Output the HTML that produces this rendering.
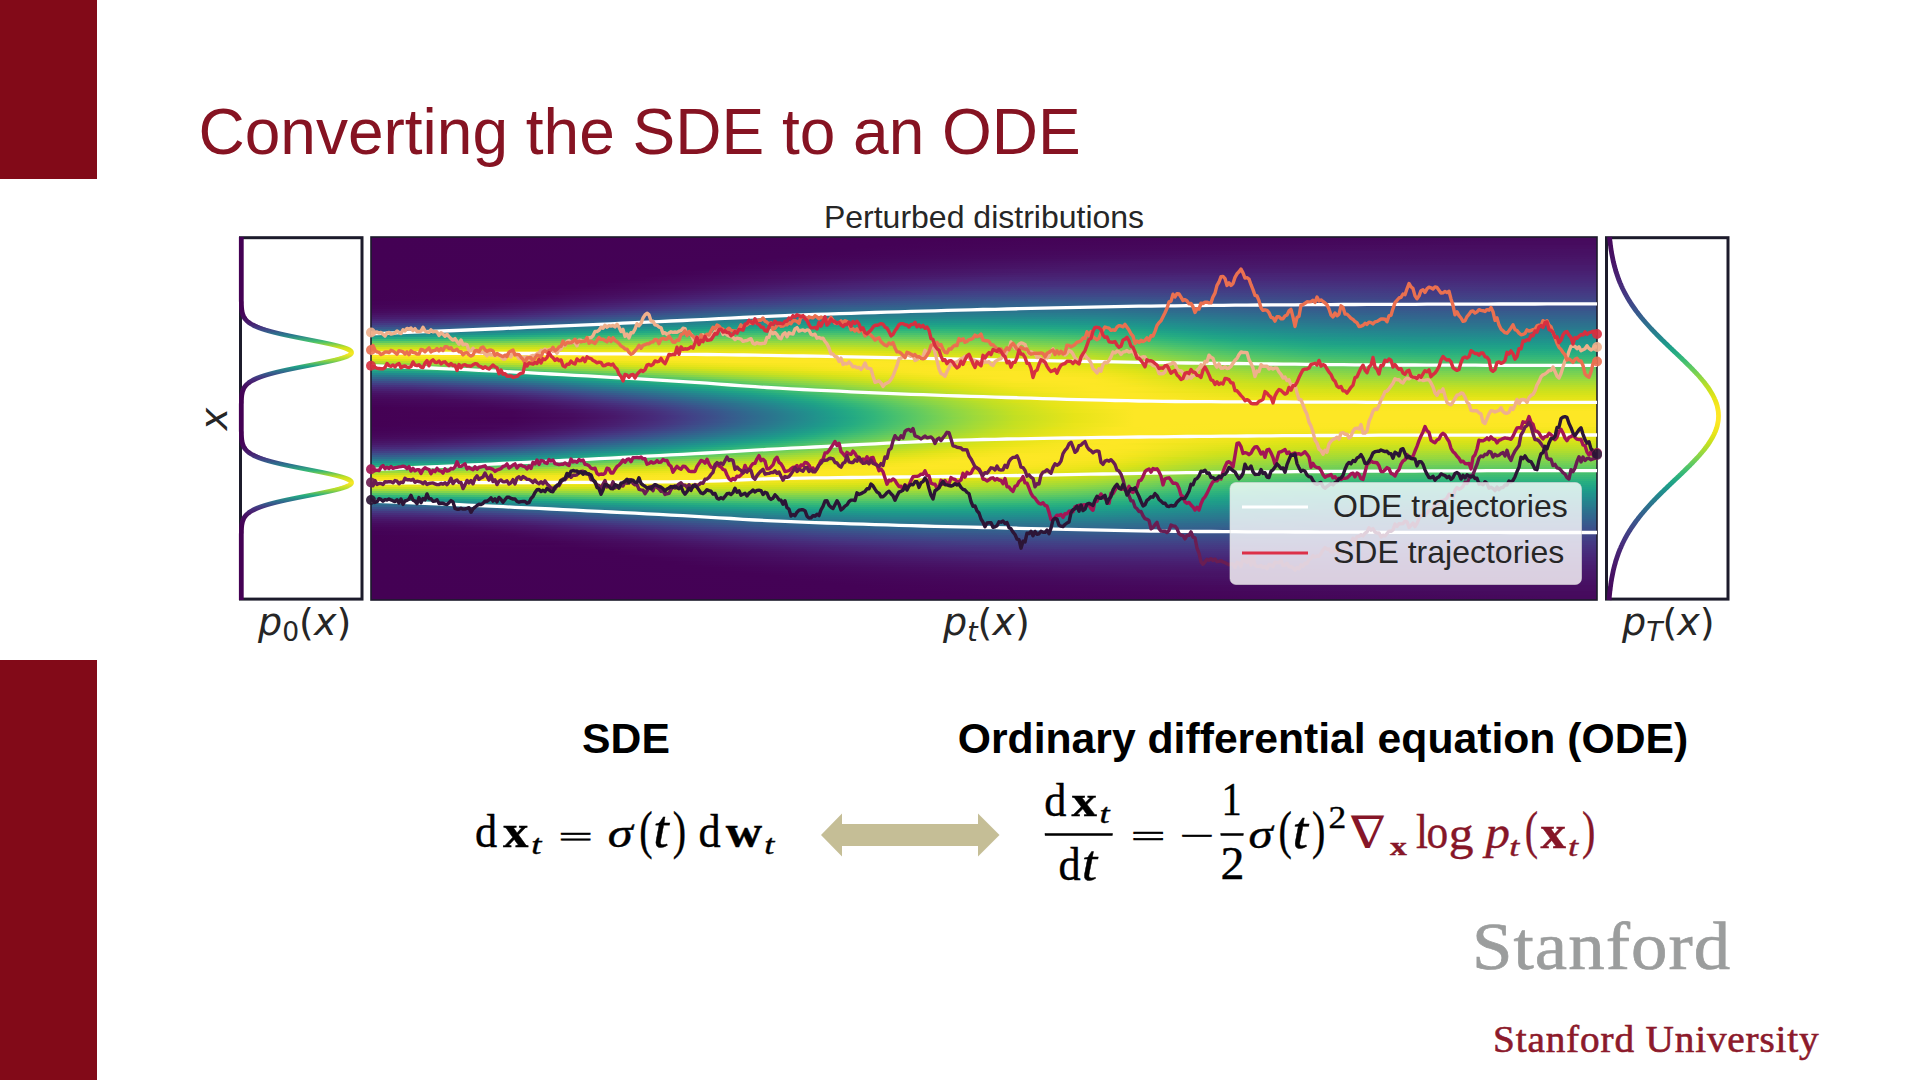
<!DOCTYPE html>
<html lang="en"><head><meta charset="utf-8"><title>Converting the SDE to an ODE</title>
<style>
html,body{margin:0;padding:0;background:#fff}
body{width:1920px;height:1080px;position:relative;overflow:hidden;font-family:"Liberation Sans",Arial,sans-serif}
.bar{position:absolute;left:0;width:97px;background:#820a18}
h1{position:absolute;left:198.5px;top:95px;margin:0;font-weight:400;font-size:64px;line-height:74px;color:#861322;white-space:nowrap}
.pt{position:absolute;left:684px;width:600px;top:199px;text-align:center;font-size:32px;line-height:36px;color:#262626;white-space:nowrap}
#heat{position:absolute;left:371px;top:237px;width:1226px;height:363px;overflow:hidden;background:#440154}
#heat i{position:absolute;left:0;width:1226px;height:2px;display:block}
svg#ov{position:absolute;left:0;top:0}
.hd{position:absolute;top:712.6px;font-weight:700;font-size:42.7px;line-height:50px;color:#000;white-space:nowrap;text-align:center}
.st1{position:absolute;left:1472px;top:906px;font-family:"Liberation Serif",serif;font-size:68px;line-height:80px;color:#9b9d9d;letter-spacing:1px;white-space:nowrap;transform:scaleX(1.07);transform-origin:0 0;-webkit-text-stroke:0.7px #9b9d9d}
.st2{position:absolute;left:1493px;top:1018px;font-family:"Liberation Serif",serif;font-size:37px;line-height:44px;color:#8c1a2b;letter-spacing:0.8px;white-space:nowrap;transform:scaleX(1.06);transform-origin:0 0;-webkit-text-stroke:0.6px #8c1a2b}
</style></head><body>
<div class="bar" style="top:0;height:179px"></div>
<div class="bar" style="top:660px;height:420px"></div>
<h1>Converting the SDE to an ODE</h1>
<div class="pt">Perturbed distributions</div>
<div id="heat">
<i style="top:0px;background:linear-gradient(90deg,#440154 0%,#440256 49.2%,#460a5d 98.4%,#460a5d 100%)"></i>
<i style="top:2px;background:linear-gradient(90deg,#440154 0%,#440256 47.5%,#460a5d 96.7%,#460a5d 100%)"></i>
<i style="top:4px;background:linear-gradient(90deg,#440154 0%,#440256 44.3%,#460b5e 93.4%,#460b5e 100%)"></i>
<i style="top:6px;background:linear-gradient(90deg,#440154 0%,#440256 42.6%,#460b5e 90.2%,#460b5e 100%)"></i>
<i style="top:8px;background:linear-gradient(90deg,#440154 0%,#440256 41%,#470d60 88.5%,#470d60 100%)"></i>
<i style="top:10px;background:linear-gradient(90deg,#440154 0%,#440256 39.3%,#470d60 85.2%,#470e61 100%)"></i>
<i style="top:12px;background:linear-gradient(90deg,#440154 0%,#440256 37.7%,#470e61 83.6%,#471063 100%)"></i>
<i style="top:14px;background:linear-gradient(90deg,#440154 0%,#440256 36.1%,#471063 80.3%,#471063 100%)"></i>
<i style="top:16px;background:linear-gradient(90deg,#440154 0%,#440256 36.1%,#471063 77%,#471164 100%)"></i>
<i style="top:18px;background:linear-gradient(90deg,#440154 0%,#440256 34.4%,#471164 72.1%,#471365 100%)"></i>
<i style="top:20px;background:linear-gradient(90deg,#440154 0%,#440256 32.8%,#471164 68.9%,#481467 100%)"></i>
<i style="top:22px;background:linear-gradient(90deg,#440154 0%,#440256 31.1%,#471365 65.6%,#481668 100%)"></i>
<i style="top:24px;background:linear-gradient(90deg,#440154 0%,#440256 31.1%,#481467 62.3%,#481769 96.7%,#481769 100%)"></i>
<i style="top:26px;background:linear-gradient(90deg,#440154 0%,#440256 29.5%,#481668 60.7%,#48186a 93.4%,#48186a 100%)"></i>
<i style="top:28px;background:linear-gradient(90deg,#440154 0%,#440256 27.9%,#481769 59%,#481b6d 88.5%,#481b6d 100%)"></i>
<i style="top:30px;background:linear-gradient(90deg,#440154 0%,#440256 27.9%,#48186a 57.4%,#481c6e 83.6%,#481c6e 100%)"></i>
<i style="top:32px;background:linear-gradient(90deg,#440154 0%,#440256 26.2%,#48186a 52.5%,#481d6f 72.1%,#481d6f 100%)"></i>
<i style="top:34px;background:linear-gradient(90deg,#440154 0%,#440256 24.6%,#471164 41%,#481c6e 57.4%,#482071 82%,#482071 100%)"></i>
<i style="top:36px;background:linear-gradient(90deg,#440154 0%,#440256 24.6%,#471365 41%,#481f70 55.7%,#482374 75.4%,#482173 100%)"></i>
<i style="top:38px;background:linear-gradient(90deg,#440154 0%,#440256 23%,#471063 36.1%,#482071 52.5%,#482576 67.2%,#482475 100%)"></i>
<i style="top:40px;background:linear-gradient(90deg,#440154 0%,#440256 21.3%,#470d60 32.8%,#482374 50.8%,#482878 65.6%,#482677 100%)"></i>
<i style="top:42px;background:linear-gradient(90deg,#440154 0%,#440256 21.3%,#471063 32.8%,#482374 47.5%,#472a7a 60.7%,#482878 100%)"></i>
<i style="top:44px;background:linear-gradient(90deg,#440154 0%,#440256 19.7%,#470d60 29.5%,#482173 42.6%,#472c7a 54.1%,#472e7c 67.2%,#472a7a 100%)"></i>
<i style="top:46px;background:linear-gradient(90deg,#440154 0%,#440256 18%,#470d60 27.9%,#482071 39.3%,#472d7b 50.8%,#46327e 63.9%,#472d7b 100%)"></i>
<i style="top:48px;background:linear-gradient(90deg,#440154 0%,#440256 18%,#470d60 26.2%,#482173 37.7%,#472f7d 49.2%,#453581 62.3%,#472f7d 100%)"></i>
<i style="top:50px;background:linear-gradient(90deg,#440154 0%,#440256 16.4%,#460b5e 24.6%,#481f70 34.4%,#46307e 45.9%,#453882 55.7%,#453882 65.6%,#46337f 95.1%,#46337f 100%)"></i>
<i style="top:52px;background:linear-gradient(90deg,#440154 0%,#450457 16.4%,#470e61 24.6%,#482374 34.4%,#453581 45.9%,#433d84 55.7%,#433d84 65.6%,#453581 91.8%,#453581 100%)"></i>
<i style="top:54px;background:linear-gradient(90deg,#440154 0%,#450457 14.8%,#470e61 23%,#482071 31.1%,#46307e 39.3%,#433e85 49.2%,#424186 60.7%,#443983 88.5%,#453882 100%)"></i>
<i style="top:56px;background:linear-gradient(90deg,#440154 0%,#450457 14.8%,#471164 23%,#482475 31.1%,#453581 39.3%,#414287 49.2%,#404688 60.7%,#433d84 86.9%,#443b84 100%)"></i>
<i style="top:58px;background:linear-gradient(90deg,#440154 0%,#450457 13.1%,#471164 21.3%,#482576 29.5%,#463480 36.1%,#404588 45.9%,#3e4a89 55.7%,#3e4989 63.9%,#424086 83.6%,#433e85 100%)"></i>
<i style="top:60px;background:linear-gradient(90deg,#440154 0%,#450559 13.1%,#481467 21.3%,#482576 27.9%,#453781 34.4%,#404688 42.6%,#3d4e8a 50.8%,#3c508b 60.7%,#414487 82%,#424186 100%)"></i>
<i style="top:62px;background:linear-gradient(90deg,#440154 0%,#450559 11.5%,#471164 18%,#482173 24.6%,#463480 31.1%,#414487 37.7%,#3c508b 45.9%,#3a548c 54.1%,#3a548c 62.3%,#3f4889 80.3%,#404588 100%)"></i>
<i style="top:64px;background:linear-gradient(90deg,#440256 0%,#46075a 11.5%,#481467 18%,#482677 24.6%,#453581 29.5%,#3f4788 36.1%,#3a548c 44.3%,#375a8c 52.5%,#375a8c 60.7%,#3e4c8a 80.3%,#3f4889 100%)"></i>
<i style="top:66px;background:linear-gradient(90deg,#440256 0%,#46085c 9.8%,#471063 14.8%,#482374 21.3%,#46327e 26.2%,#424086 31.1%,#3c508b 37.7%,#365c8d 45.9%,#34608d 54.1%,#355e8d 62.3%,#3c508b 78.7%,#3e4c8a 96.7%,#3e4c8a 100%)"></i>
<i style="top:68px;background:linear-gradient(90deg,#450457 0%,#460a5d 9.8%,#481467 14.8%,#482878 21.3%,#443983 26.2%,#3f4788 31.1%,#38588c 37.7%,#33628d 45.9%,#32658e 54.1%,#33638d 62.3%,#3a548c 77%,#3c4f8a 91.8%,#3c4f8a 100%)"></i>
<i style="top:70px;background:linear-gradient(90deg,#450559 0%,#460b5e 8.2%,#481467 13.1%,#482475 18%,#463480 23%,#404688 27.9%,#3a538b 32.8%,#34618d 39.3%,#30698e 47.5%,#2f6b8e 57.4%,#31668e 63.9%,#38598c 77%,#3a538b 91.8%,#3b528b 100%)"></i>
<i style="top:72px;background:linear-gradient(90deg,#46085c 0%,#470d60 6.6%,#481a6c 13.1%,#472a7a 18%,#443b84 23%,#3d4d8a 27.9%,#375b8d 32.8%,#31688e 39.3%,#2d708e 47.5%,#2d718e 57.4%,#2f6b8e 63.9%,#365d8d 77%,#39568c 90.2%,#39558c 100%)"></i>
<i style="top:74px;background:linear-gradient(90deg,#460b5e 0%,#471164 6.6%,#481b6d 11.5%,#472c7a 16.4%,#433e85 21.3%,#3e4a89 24.6%,#375a8c 29.5%,#306a8e 36.1%,#2c728e 42.6%,#2a768e 50.8%,#2b758e 59%,#31678e 70.5%,#355e8d 80.3%,#375a8c 95.1%,#375a8c 100%)"></i>
<i style="top:76px;background:linear-gradient(90deg,#471063 0%,#481467 4.9%,#482173 11.5%,#46337f 16.4%,#424086 19.7%,#3d4d8a 23%,#38598c 26.2%,#31668e 31.1%,#2c738e 37.7%,#287c8e 45.9%,#287d8e 54.1%,#29798e 60.7%,#2f6c8e 70.5%,#33628d 80.3%,#365d8d 95.1%,#365d8d 100%)"></i>
<i style="top:78px;background:linear-gradient(90deg,#481668 0%,#481b6d 4.9%,#482979 11.5%,#453581 14.8%,#414487 18%,#3c508b 21.3%,#365c8d 24.6%,#2f6b8e 29.5%,#2a788e 36.1%,#26818e 42.6%,#25838e 50.8%,#27808e 59%,#2a778e 65.6%,#306a8e 75.4%,#33638d 86.9%,#34618d 100%)"></i>
<i style="top:80px;background:linear-gradient(90deg,#481c6e 0%,#482173 4.9%,#46327e 11.5%,#423f85 14.8%,#3d4d8a 18%,#375a8c 21.3%,#32658e 24.6%,#2c738e 29.5%,#26818e 36.1%,#24878e 42.6%,#238a8d 50.8%,#24868e 59%,#287c8e 65.6%,#2e6e8e 75.4%,#31678e 85.2%,#32648e 100%)"></i>
<i style="top:82px;background:linear-gradient(90deg,#482475 0%,#472a7a 4.9%,#433d84 11.5%,#3e4989 14.8%,#38588c 18%,#33638d 21.3%,#2e6f8e 24.6%,#287c8e 29.5%,#23888e 36.1%,#218f8d 42.6%,#21918c 50.8%,#228c8d 59%,#26818e 65.6%,#2b748e 73.8%,#2f6c8e 83.6%,#31688e 100%)"></i>
<i style="top:84px;background:linear-gradient(90deg,#472e7c 0%,#46307e 3.3%,#414287 9.8%,#3d4e8a 13.1%,#365c8d 16.4%,#31688e 19.7%,#2c738e 23%,#26828e 27.9%,#218e8d 34.4%,#1f958b 41%,#1f978b 49.2%,#20928c 59%,#23898e 63.9%,#287d8e 70.5%,#2c728e 78.7%,#2e6d8e 90.2%,#2f6c8e 100%)"></i>
<i style="top:86px;background:linear-gradient(90deg,#443983 0%,#433d84 3.3%,#3d4e8a 9.8%,#375a8c 13.1%,#31678e 16.4%,#2c728e 19.7%,#287d8e 23%,#228b8d 27.9%,#1f978b 34.4%,#1e9d89 41%,#1f9e89 49.2%,#1f978b 59%,#218f8d 63.9%,#26828e 70.5%,#2a778e 78.7%,#2d718e 90.2%,#2d708e 100%)"></i>
<i style="top:88px;background:linear-gradient(90deg,#404688 0%,#3e4989 3.3%,#39568c 8.2%,#31668e 13.1%,#2c728e 16.4%,#277e8e 19.7%,#23888e 23%,#1f948c 27.9%,#1fa088 34.4%,#21a585 41%,#21a585 49.2%,#1f9e89 59%,#1f948c 63.9%,#24868e 70.5%,#297b8e 78.7%,#2b758e 88.5%,#2c738e 100%)"></i>
<i style="top:90px;background:linear-gradient(90deg,#3a548c 0%,#38588c 3.3%,#32648e 8.2%,#2c728e 13.1%,#277f8e 16.4%,#238a8d 19.7%,#1f978b 24.6%,#20a486 31.1%,#25ac82 37.7%,#26ad81 45.9%,#22a785 55.7%,#1fa188 60.7%,#1f958b 65.6%,#23888e 72.1%,#277e8e 80.3%,#2a788e 91.8%,#2a778e 100%)"></i>
<i style="top:92px;background:linear-gradient(90deg,#33638d 0%,#31678e 3.3%,#2c728e 8.2%,#26818e 13.1%,#228c8d 16.4%,#1f9a8a 21.3%,#21a585 26.2%,#29af7f 32.8%,#2fb47c 39.3%,#2fb47c 47.5%,#25ac82 57.4%,#20a386 62.3%,#1f968b 67.2%,#238a8d 73.8%,#26818e 82%,#287c8e 93.4%,#287c8e 100%)"></i>
<i style="top:94px;background:linear-gradient(90deg,#2c728e 0%,#2a768e 3.3%,#26818e 8.2%,#218f8d 13.1%,#1f998a 16.4%,#21a685 21.3%,#2eb37c 27.9%,#3aba76 36.1%,#3bbb75 44.3%,#31b57b 54.1%,#26ad81 60.7%,#1fa088 65.6%,#1f948c 70.5%,#23898e 77%,#26828e 86.9%,#27808e 100%)"></i>
<i style="top:96px;background:linear-gradient(90deg,#25838e 0%,#24868e 3.3%,#1f948c 9.8%,#1fa187 14.8%,#28ae80 19.7%,#3dbc74 27.9%,#4ac16d 36.1%,#4ac16d 44.3%,#3bbb75 54.1%,#31b57b 59%,#24aa83 63.9%,#1e9d89 68.9%,#21918c 75.4%,#23888e 83.6%,#25848e 96.7%,#25838e 100%)"></i>
<i style="top:98px;background:linear-gradient(90deg,#1f958b 0%,#1f978b 3.3%,#20a486 9.8%,#2ab07f 14.8%,#3fbc73 21.3%,#54c568 29.5%,#5cc863 37.7%,#58c765 45.9%,#40bd72 57.4%,#2fb47c 62.3%,#24aa83 65.6%,#1f9e89 70.5%,#20928c 77%,#228b8d 85.2%,#23888e 100%)"></i>
<i style="top:100px;background:linear-gradient(90deg,#22a785 0%,#25ac82 4.9%,#34b679 11.5%,#4cc26c 18%,#65cb5e 26.2%,#6ece58 34.4%,#6ccd5a 42.6%,#58c765 52.5%,#46c06f 59%,#2fb47c 63.9%,#21a685 68.9%,#1f998a 75.4%,#21918c 83.6%,#228c8d 96.7%,#228c8d 100%)"></i>
<i style="top:102px;background:linear-gradient(90deg,#37b878 0%,#3dbc74 4.9%,#56c667 13.1%,#70cf57 21.3%,#7fd34e 29.5%,#81d34d 39.3%,#70cf57 49.2%,#58c765 57.4%,#40bd72 62.3%,#2fb47c 65.6%,#22a785 70.5%,#1e9b8a 77%,#20938c 85.2%,#21918c 100%)"></i>
<i style="top:104px;background:linear-gradient(90deg,#5ac864 0%,#65cb5e 6.6%,#89d548 19.7%,#95d840 29.5%,#93d741 39.3%,#7fd34e 49.2%,#65cb5e 57.4%,#4cc26c 62.3%,#37b878 65.6%,#25ac82 70.5%,#1fa088 77%,#1f988b 85.2%,#1f948c 100%)"></i>
<i style="top:106px;background:linear-gradient(90deg,#84d44b 0%,#95d840 11.5%,#a8db34 23%,#aadc32 34.4%,#9bd93c 44.3%,#77d153 55.7%,#60ca60 60.7%,#4ac16d 63.9%,#37b878 67.2%,#26ad81 72.1%,#1fa187 78.7%,#1e9c89 86.9%,#1f998a 100%)"></i>
<i style="top:108px;background:linear-gradient(90deg,#aadc32 0%,#c0df25 23%,#bade28 36.1%,#a2da37 47.5%,#7fd34e 57.4%,#60ca60 62.3%,#48c16e 65.6%,#31b57b 70.5%,#22a884 77%,#1fa188 85.2%,#1f9e89 100%)"></i>
<i style="top:110px;background:linear-gradient(90deg,#cde11d 0%,#d2e21b 24.6%,#c5e021 39.3%,#addc30 49.2%,#8ed645 57.4%,#6ece58 62.3%,#52c569 65.6%,#37b878 70.5%,#26ad81 77%,#21a585 85.2%,#1fa187 100%)"></i>
<i style="top:112px;background:linear-gradient(90deg,#e7e419 0%,#e5e419 24.6%,#d2e21b 39.3%,#bade28 49.2%,#9bd93c 57.4%,#7ad151 62.3%,#5cc863 65.6%,#3fbc73 70.5%,#2cb17e 77%,#24aa83 85.2%,#21a685 100%)"></i>
<i style="top:114px;background:linear-gradient(90deg,#f8e621 0%,#efe51c 24.6%,#dde318 41%,#bade28 52.5%,#9dd93b 59%,#84d44b 62.3%,#67cc5c 65.6%,#48c16e 70.5%,#31b57b 77%,#27ad81 85.2%,#25ab82 100%)"></i>
<i style="top:116px;background:linear-gradient(90deg,#fde725 0%,#f8e621 24.6%,#e7e419 41%,#c5e021 52.5%,#aadc32 59%,#90d743 62.3%,#70cf57 65.6%,#50c46a 70.5%,#38b977 77%,#2db27d 85.2%,#28ae80 100%)"></i>
<i style="top:118px;background:linear-gradient(90deg,#fbe723 0%,#fde725 24.6%,#efe51c 41%,#d5e21a 50.8%,#b5de2b 59%,#9bd93c 62.3%,#7cd250 65.6%,#5ac864 70.5%,#3fbc73 77%,#34b679 85.2%,#2eb37c 100%)"></i>
<i style="top:120px;background:linear-gradient(90deg,#efe51c 0%,#fde725 24.6%,#f6e620 39.3%,#e5e419 49.2%,#c8e020 57.4%,#b5de2b 60.7%,#95d840 63.9%,#77d153 67.2%,#5ac864 72.1%,#44bf70 78.7%,#38b977 88.5%,#35b779 100%)"></i>
<i style="top:122px;background:linear-gradient(90deg,#d8e219 0%,#eae51a 11.5%,#fbe723 23%,#fde725 36.1%,#efe51c 47.5%,#d2e21b 57.4%,#bddf26 60.7%,#a0da39 63.9%,#81d34d 67.2%,#63cb5f 72.1%,#4cc26c 78.7%,#3fbc73 88.5%,#3bbb75 100%)"></i>
<i style="top:124px;background:linear-gradient(90deg,#b8de29 0%,#c5e021 6.6%,#eae51a 18%,#fde725 29.5%,#fde725 41%,#efe51c 50.8%,#dae319 57.4%,#c8e020 60.7%,#aadc32 63.9%,#8bd646 67.2%,#6ece58 72.1%,#56c667 78.7%,#48c16e 88.5%,#44bf70 100%)"></i>
<i style="top:126px;background:linear-gradient(90deg,#90d743 0%,#9bd93c 4.9%,#c0df25 13.1%,#e5e419 21.3%,#f8e621 31.1%,#fde725 42.6%,#efe51c 52.5%,#dae319 59%,#c2df23 62.3%,#a2da37 65.6%,#7fd34e 70.5%,#63cb5f 77%,#54c568 85.2%,#4cc26c 100%)"></i>
<i style="top:128px;background:linear-gradient(90deg,#65cb5e 0%,#6ccd5a 3.3%,#8ed645 9.8%,#addc30 14.8%,#d5e21a 21.3%,#efe51c 29.5%,#fde725 39.3%,#fbe723 49.2%,#e7e419 57.4%,#d8e219 60.7%,#bade28 63.9%,#a0da39 67.2%,#7fd34e 72.1%,#67cc5c 78.7%,#5ac864 88.5%,#56c667 100%)"></i>
<i style="top:130px;background:linear-gradient(90deg,#40bd72 0%,#46c06f 3.3%,#60ca60 8.2%,#81d34d 13.1%,#9dd93b 16.4%,#c0df25 21.3%,#dfe318 27.9%,#f8e621 37.7%,#fde725 45.9%,#f6e620 54.1%,#e7e419 59%,#d2e21b 62.3%,#b5de2b 65.6%,#93d741 70.5%,#75d054 77%,#65cb5e 85.2%,#5ec962 100%)"></i>
<i style="top:132px;background:linear-gradient(90deg,#26ad81 0%,#2ab07f 3.3%,#3fbc73 8.2%,#52c569 11.5%,#6ece58 14.8%,#8ed645 18%,#b2dd2d 23%,#d8e219 29.5%,#f4e61e 37.7%,#fde725 45.9%,#f8e621 54.1%,#ece51b 59%,#dae319 62.3%,#bddf26 65.6%,#9bd93c 70.5%,#7fd34e 77%,#6ece58 86.9%,#69cd5b 100%)"></i>
<i style="top:134px;background:linear-gradient(90deg,#1f9a8a 0%,#1f9f88 3.3%,#22a884 6.6%,#2db27d 9.8%,#40bd72 13.1%,#60ca60 16.4%,#7fd34e 19.7%,#9bd93c 23%,#bddf26 27.9%,#e5e419 36.1%,#fbe723 44.3%,#fde725 52.5%,#f1e51d 59%,#dfe318 62.3%,#b8de29 67.2%,#93d741 73.8%,#81d34d 80.3%,#75d054 91.8%,#73d056 100%)"></i>
<i style="top:136px;background:linear-gradient(90deg,#23888e 0%,#238a8d 1.6%,#20928c 4.9%,#1e9d89 8.2%,#23a983 11.5%,#2ab07f 13.1%,#35b779 14.8%,#44bf70 16.4%,#63cb5f 19.7%,#7fd34e 23%,#9dd93b 26.2%,#c0df25 31.1%,#e2e418 37.7%,#fbe723 45.9%,#fde725 52.5%,#f6e620 59%,#e5e419 62.3%,#c0df25 67.2%,#9dd93b 73.8%,#86d549 82%,#7cd250 96.7%,#7cd250 100%)"></i>
<i style="top:138px;background:linear-gradient(90deg,#2a788e 0%,#29798e 1.6%,#26818e 4.9%,#228d8d 8.2%,#1f998a 11.5%,#1fa187 13.1%,#24aa83 14.8%,#2db27d 16.4%,#3aba76 18%,#56c667 21.3%,#75d054 24.6%,#93d741 27.9%,#b8de29 32.8%,#dfe318 39.3%,#f6e620 45.9%,#fde725 52.5%,#f8e621 59%,#eae51a 62.3%,#c8e020 67.2%,#a5db36 73.8%,#90d743 82%,#86d549 96.7%,#86d549 100%)"></i>
<i style="top:140px;background:linear-gradient(90deg,#31688e 0%,#30698e 1.6%,#2c718e 4.9%,#287d8e 8.2%,#238a8d 11.5%,#20928c 13.1%,#1e9c89 14.8%,#21a585 16.4%,#27ad81 18%,#32b67a 19.7%,#3fbc73 21.3%,#4ec36b 23%,#6ccd5a 26.2%,#8bd646 29.5%,#a5db36 32.8%,#cae11f 37.7%,#ece51b 44.3%,#fde725 50.8%,#fde725 57.4%,#f6e620 60.7%,#d8e219 65.6%,#b5de2b 72.1%,#9dd93b 80.3%,#93d741 93.4%,#90d743 100%)"></i>
<i style="top:142px;background:linear-gradient(90deg,#38598c 0%,#375a8c 1.6%,#33628d 4.9%,#2e6f8e 8.2%,#287c8e 11.5%,#25848e 13.1%,#218e8d 14.8%,#1f988b 16.4%,#1fa187 18%,#24aa83 19.7%,#2cb17e 21.3%,#38b977 23%,#46c06f 24.6%,#65cb5e 27.9%,#84d44b 31.1%,#a0da39 34.4%,#c8e020 39.3%,#ece51b 45.9%,#fde725 52.5%,#fde725 59%,#f1e51d 62.3%,#cae11f 68.9%,#addc30 77%,#9dd93b 88.5%,#9bd93c 100%)"></i>
<i style="top:144px;background:linear-gradient(90deg,#3e4a89 0%,#3c4f8a 3.3%,#375a8c 6.6%,#31678e 9.8%,#2e6e8e 11.5%,#2a778e 13.1%,#26818e 14.8%,#228b8d 16.4%,#1f948c 18%,#1e9d89 19.7%,#21a685 21.3%,#28ae80 23%,#34b679 24.6%,#40bd72 26.2%,#5ec962 29.5%,#7fd34e 32.8%,#9dd93b 36.1%,#c8e020 41%,#ece51b 47.5%,#fbe723 52.5%,#fde725 59%,#f4e61e 62.3%,#d0e11c 68.9%,#b5de2b 77%,#a8db34 88.5%,#a5db36 100%)"></i>
<i style="top:146px;background:linear-gradient(90deg,#433d84 0%,#424186 3.3%,#3d4d8a 6.6%,#375a8c 9.8%,#34618d 11.5%,#306a8e 13.1%,#2c738e 14.8%,#277e8e 16.4%,#23888e 18%,#21918c 19.7%,#1f9a8a 21.3%,#20a386 23%,#25ac82 24.6%,#2fb47c 26.2%,#3dbc74 27.9%,#4cc26c 29.5%,#6ccd5a 32.8%,#8ed645 36.1%,#addc30 39.3%,#d2e21b 44.3%,#f4e61e 50.8%,#fde725 57.4%,#fbe723 60.7%,#d8e219 68.9%,#bddf26 77%,#b0dd2f 90.2%,#addc30 100%)"></i>
<i style="top:148px;background:linear-gradient(90deg,#46307e 0%,#453581 3.3%,#404688 8.2%,#3a548c 11.5%,#365d8d 13.1%,#31678e 14.8%,#2c718e 16.4%,#287c8e 18%,#25858e 19.7%,#218f8d 21.3%,#1f988b 23%,#1fa187 24.6%,#24aa83 26.2%,#2db27d 27.9%,#3aba76 29.5%,#48c16e 31.1%,#58c765 32.8%,#7cd250 36.1%,#9dd93b 39.3%,#bddf26 42.6%,#dfe318 47.5%,#f6e620 52.5%,#fde725 59%,#f8e621 62.3%,#d5e21a 70.5%,#c2df23 78.7%,#b8de29 93.4%,#b8de29 100%)"></i>
<i style="top:150px;background:linear-gradient(90deg,#482677 0%,#472a7a 3.3%,#443a83 8.2%,#3f4889 11.5%,#3b518b 13.1%,#365c8d 14.8%,#31668e 16.4%,#2d708e 18%,#297a8e 19.7%,#25838e 21.3%,#228d8d 23%,#1f968b 24.6%,#1fa088 26.2%,#23a983 27.9%,#2cb17e 29.5%,#38b977 31.1%,#48c16e 32.8%,#58c765 34.4%,#6ccd5a 36.1%,#8ed645 39.3%,#b0dd2f 42.6%,#d8e219 47.5%,#f1e51d 52.5%,#fde725 59%,#fbe723 62.3%,#dae319 70.5%,#c8e020 80.3%,#c0df25 100%)"></i>
<i style="top:152px;background:linear-gradient(90deg,#481f70 0%,#482173 3.3%,#46307e 8.2%,#433d84 11.5%,#404688 13.1%,#3c508b 14.8%,#375b8d 16.4%,#32658e 18%,#2e6f8e 19.7%,#2a788e 21.3%,#26828e 23%,#228c8d 24.6%,#1f968b 26.2%,#1fa088 27.9%,#23a983 29.5%,#2cb17e 31.1%,#38b977 32.8%,#4ac16d 34.4%,#5ac864 36.1%,#6ece58 37.7%,#93d741 41%,#b5de2b 44.3%,#dde318 49.2%,#f4e61e 54.1%,#fde725 59%,#fbe723 62.3%,#dde318 72.1%,#cde11d 83.6%,#c8e020 100%)"></i>
<i style="top:154px;background:linear-gradient(90deg,#481769 0%,#481d6f 4.9%,#472d7b 9.8%,#443b84 13.1%,#404588 14.8%,#3c508b 16.4%,#375a8c 18%,#32648e 19.7%,#2e6e8e 21.3%,#2a788e 23%,#26828e 24.6%,#228c8d 26.2%,#1f968b 27.9%,#1fa088 29.5%,#23a983 31.1%,#2db27d 32.8%,#3bbb75 34.4%,#4cc26c 36.1%,#5ec962 37.7%,#73d056 39.3%,#98d83e 42.6%,#bade28 45.9%,#e2e418 50.8%,#f6e620 55.7%,#fde725 60.7%,#f1e51d 65.6%,#dae319 75.4%,#d0e11c 90.2%,#d0e11c 100%)"></i>
<i style="top:156px;background:linear-gradient(90deg,#471164 0%,#481769 4.9%,#482475 9.8%,#46327e 13.1%,#443b84 14.8%,#404588 16.4%,#3c508b 18%,#375a8c 19.7%,#32648e 21.3%,#2e6e8e 23%,#2a788e 24.6%,#26828e 26.2%,#228d8d 27.9%,#1f978b 29.5%,#1fa188 31.1%,#25ab82 32.8%,#2fb47c 34.4%,#3fbc73 36.1%,#52c569 37.7%,#65cb5e 39.3%,#77d153 41%,#a0da39 44.3%,#c0df25 47.5%,#e5e419 52.5%,#fde725 59%,#fde725 62.3%,#e2e418 73.8%,#d8e219 88.5%,#d5e21a 100%)"></i>
<i style="top:158px;background:linear-gradient(90deg,#470d60 0%,#471164 4.9%,#482173 11.5%,#46327e 14.8%,#443b84 16.4%,#404688 18%,#3c508b 19.7%,#375a8c 21.3%,#32658e 23%,#2e6f8e 24.6%,#297a8e 26.2%,#25848e 27.9%,#218f8d 29.5%,#1f988b 31.1%,#20a386 32.8%,#27ad81 34.4%,#34b679 36.1%,#46c06f 37.7%,#58c765 39.3%,#6ccd5a 41%,#81d34d 42.6%,#a8db34 45.9%,#c8e020 49.2%,#eae51a 54.1%,#fbe723 59%,#fde725 62.3%,#e7e419 73.8%,#dde318 90.2%,#dde318 100%)"></i>
<i style="top:160px;background:linear-gradient(90deg,#460a5d 0%,#470d60 4.9%,#481b6d 11.5%,#472a7a 14.8%,#46337f 16.4%,#433d84 18%,#3f4788 19.7%,#3b518b 21.3%,#365c8d 23%,#31668e 24.6%,#2c718e 26.2%,#287c8e 27.9%,#24868e 29.5%,#21918c 31.1%,#1e9c89 32.8%,#22a785 34.4%,#2cb17e 36.1%,#3bbb75 37.7%,#4ec36b 39.3%,#60ca60 41%,#75d054 42.6%,#8bd646 44.3%,#b2dd2d 47.5%,#d0e11c 50.8%,#efe51c 55.7%,#fde725 60.7%,#fbe723 63.9%,#eae51a 77%,#e2e418 100%)"></i>
<i style="top:162px;background:linear-gradient(90deg,#46075a 0%,#460b5e 6.6%,#481668 11.5%,#482374 14.8%,#463480 18%,#433e85 19.7%,#3f4889 21.3%,#3b528b 23%,#355e8d 24.6%,#30698e 26.2%,#2b748e 27.9%,#277f8e 29.5%,#238a8d 31.1%,#1f958b 32.8%,#1fa188 34.4%,#25ac82 36.1%,#32b67a 37.7%,#44bf70 39.3%,#58c765 41%,#6ccd5a 42.6%,#81d34d 44.3%,#95d840 45.9%,#bddf26 49.2%,#e2e418 54.1%,#fde725 60.7%,#fde725 63.9%,#ece51b 78.7%,#e7e419 100%)"></i>
<i style="top:164px;background:linear-gradient(90deg,#450559 0%,#460b5e 8.2%,#481668 13.1%,#482475 16.4%,#453781 19.7%,#424086 21.3%,#3e4a89 23%,#39568c 24.6%,#33628d 26.2%,#2e6d8e 27.9%,#2a788e 29.5%,#25838e 31.1%,#218f8d 32.8%,#1e9b8a 34.4%,#21a685 36.1%,#2cb17e 37.7%,#3bbb75 39.3%,#4ec36b 41%,#63cb5f 42.6%,#7ad151 44.3%,#8ed645 45.9%,#b5de2b 49.2%,#d5e21a 52.5%,#f8e621 59%,#fde725 62.3%,#efe51c 80.3%,#ece51b 100%)"></i>
<i style="top:166px;background:linear-gradient(90deg,#450457 0%,#46085c 8.2%,#471164 13.1%,#481f70 16.4%,#472f7d 19.7%,#443983 21.3%,#414487 23%,#3c4f8a 24.6%,#375b8d 26.2%,#31678e 27.9%,#2c718e 29.5%,#287d8e 31.1%,#23898e 32.8%,#1f958b 34.4%,#1fa187 36.1%,#26ad81 37.7%,#34b679 39.3%,#46c06f 41%,#5cc863 42.6%,#73d056 44.3%,#89d548 45.9%,#9dd93b 47.5%,#c2df23 50.8%,#e7e419 55.7%,#fbe723 60.7%,#fde725 63.9%,#f1e51d 83.6%,#f1e51d 100%)"></i>
<i style="top:168px;background:linear-gradient(90deg,#440256 0%,#46085c 9.8%,#471365 14.8%,#482173 18%,#46327e 21.3%,#433d84 23%,#3f4889 24.6%,#3a548c 26.2%,#34618d 27.9%,#2e6d8e 29.5%,#2a788e 31.1%,#25848e 32.8%,#21918c 34.4%,#1e9d89 36.1%,#23a983 37.7%,#2fb47c 39.3%,#40bd72 41%,#56c667 42.6%,#6ccd5a 44.3%,#81d34d 45.9%,#98d83e 47.5%,#bddf26 50.8%,#e5e419 55.7%,#fbe723 60.7%,#fde725 63.9%,#f6e620 88.5%,#f4e61e 100%)"></i>
<i style="top:170px;background:linear-gradient(90deg,#440154 0%,#450559 9.8%,#471063 14.8%,#482475 19.7%,#472d7b 21.3%,#453781 23%,#414287 24.6%,#3c4f8a 26.2%,#365c8d 27.9%,#31688e 29.5%,#2c738e 31.1%,#27808e 32.8%,#228d8d 34.4%,#1f998a 36.1%,#21a585 37.7%,#2ab07f 39.3%,#3bbb75 41%,#50c46a 42.6%,#65cb5e 44.3%,#7cd250 45.9%,#93d741 47.5%,#bade28 50.8%,#e2e418 55.7%,#fbe723 60.7%,#fde725 63.9%,#f8e621 98.4%,#f8e621 100%)"></i>
<i style="top:172px;background:linear-gradient(90deg,#440154 0%,#450559 11.5%,#471164 16.4%,#482071 19.7%,#46327e 23%,#433e85 24.6%,#3e4a89 26.2%,#39568c 27.9%,#32648e 29.5%,#2d708e 31.1%,#287c8e 32.8%,#23898e 34.4%,#1f968b 36.1%,#1fa287 37.7%,#27ad81 39.3%,#37b878 41%,#4cc26c 42.6%,#60ca60 44.3%,#77d153 45.9%,#8ed645 47.5%,#a2da37 49.2%,#c8e020 52.5%,#eae51a 57.4%,#fde725 62.3%,#fbe723 100%)"></i>
<i style="top:174px;background:linear-gradient(90deg,#440154 0%,#450457 11.5%,#471063 16.4%,#481c6e 19.7%,#472e7c 23%,#443a83 24.6%,#3f4788 26.2%,#3a538b 27.9%,#34608d 29.5%,#2e6d8e 31.1%,#29798e 32.8%,#24868e 34.4%,#20938c 36.1%,#1fa088 37.7%,#25ac82 39.3%,#34b679 41%,#48c16e 42.6%,#5ec962 44.3%,#75d054 45.9%,#8bd646 47.5%,#a0da39 49.2%,#c5e021 52.5%,#eae51a 57.4%,#fde725 62.3%,#fde725 100%)"></i>
<i style="top:176px;background:linear-gradient(90deg,#440154 0%,#450457 11.5%,#470d60 16.4%,#481a6c 19.7%,#472c7a 23%,#453882 24.6%,#414487 26.2%,#3b518b 27.9%,#355e8d 29.5%,#2f6b8e 31.1%,#2a778e 32.8%,#25848e 34.4%,#20928c 36.1%,#1f9f88 37.7%,#25ab82 39.3%,#32b67a 41%,#46c06f 42.6%,#5cc863 44.3%,#73d056 45.9%,#89d548 47.5%,#a0da39 49.2%,#c5e021 52.5%,#e7e419 57.4%,#fde725 62.3%,#fde725 100%)"></i>
<i style="top:178px;background:linear-gradient(90deg,#440154 0%,#450457 11.5%,#470d60 16.4%,#48186a 19.7%,#472a7a 23%,#453581 24.6%,#414287 26.2%,#3c4f8a 27.9%,#365d8d 29.5%,#30698e 31.1%,#2a768e 32.8%,#25838e 34.4%,#21918c 36.1%,#1f9e89 37.7%,#24aa83 39.3%,#31b57b 41%,#44bf70 42.6%,#5ac864 44.3%,#70cf57 45.9%,#89d548 47.5%,#9dd93b 49.2%,#c2df23 52.5%,#e7e419 57.4%,#fde725 62.3%,#fde725 100%)"></i>
<i style="top:180px;background:linear-gradient(90deg,#440154 0%,#440256 11.5%,#460b5e 16.4%,#48186a 19.7%,#472a7a 23%,#453581 24.6%,#414287 26.2%,#3c4f8a 27.9%,#365c8d 29.5%,#30698e 31.1%,#2a768e 32.8%,#25838e 34.4%,#21918c 36.1%,#1e9d89 37.7%,#23a983 39.3%,#31b57b 41%,#44bf70 42.6%,#5ac864 44.3%,#70cf57 45.9%,#86d549 47.5%,#9dd93b 49.2%,#c2df23 52.5%,#e7e419 57.4%,#fde725 62.3%,#fde725 100%)"></i>
<i style="top:182px;background:linear-gradient(90deg,#440154 0%,#450457 11.5%,#470d60 16.4%,#481a6c 19.7%,#472a7a 23%,#453781 24.6%,#414287 26.2%,#3c508b 27.9%,#365d8d 29.5%,#306a8e 31.1%,#2a768e 32.8%,#25838e 34.4%,#21918c 36.1%,#1f9e89 37.7%,#24aa83 39.3%,#31b57b 41%,#44bf70 42.6%,#5ac864 44.3%,#70cf57 45.9%,#89d548 47.5%,#9dd93b 49.2%,#c2df23 52.5%,#e7e419 57.4%,#fde725 62.3%,#fde725 100%)"></i>
<i style="top:184px;background:linear-gradient(90deg,#440154 0%,#450457 11.5%,#470e61 16.4%,#481b6d 19.7%,#472d7b 23%,#453882 24.6%,#404588 26.2%,#3b518b 27.9%,#355e8d 29.5%,#2f6b8e 31.1%,#2a788e 32.8%,#25858e 34.4%,#20928c 36.1%,#1f9f88 37.7%,#25ab82 39.3%,#32b67a 41%,#46c06f 42.6%,#5cc863 44.3%,#73d056 45.9%,#89d548 47.5%,#a0da39 49.2%,#c5e021 52.5%,#e7e419 57.4%,#fde725 62.3%,#fde725 100%)"></i>
<i style="top:186px;background:linear-gradient(90deg,#440154 0%,#450559 11.5%,#471063 16.4%,#481d6f 19.7%,#472f7d 23%,#443a83 24.6%,#3f4788 26.2%,#3a548c 27.9%,#34618d 29.5%,#2e6d8e 31.1%,#297a8e 32.8%,#24878e 34.4%,#1f948c 36.1%,#1fa188 37.7%,#25ac82 39.3%,#35b779 41%,#48c16e 42.6%,#5ec962 44.3%,#75d054 45.9%,#8bd646 47.5%,#a2da37 49.2%,#c5e021 52.5%,#eae51a 57.4%,#fde725 62.3%,#fbe723 100%)"></i>
<i style="top:188px;background:linear-gradient(90deg,#440154 0%,#46075a 11.5%,#471365 16.4%,#482071 19.7%,#46337f 23%,#423f85 24.6%,#3e4c8a 26.2%,#38588c 27.9%,#32648e 29.5%,#2d718e 31.1%,#287d8e 32.8%,#238a8d 34.4%,#1f968b 36.1%,#1fa287 37.7%,#28ae80 39.3%,#38b977 41%,#4cc26c 42.6%,#63cb5f 44.3%,#7ad151 45.9%,#90d743 47.5%,#a5db36 49.2%,#c8e020 52.5%,#eae51a 57.4%,#fde725 62.3%,#fbe723 100%)"></i>
<i style="top:190px;background:linear-gradient(90deg,#440256 0%,#450559 9.8%,#471063 14.8%,#481d6f 18%,#472e7c 21.3%,#453882 23%,#414487 24.6%,#3c508b 26.2%,#365d8d 27.9%,#30698e 29.5%,#2b748e 31.1%,#26818e 32.8%,#228d8d 34.4%,#1f9a8a 36.1%,#21a685 37.7%,#2cb17e 39.3%,#3bbb75 41%,#50c46a 42.6%,#67cc5c 44.3%,#7cd250 45.9%,#93d741 47.5%,#bade28 50.8%,#e2e418 55.7%,#fbe723 60.7%,#fde725 63.9%,#f8e621 95.1%,#f6e620 100%)"></i>
<i style="top:192px;background:linear-gradient(90deg,#440256 0%,#46085c 9.8%,#470e61 13.1%,#481b6d 16.4%,#472a7a 19.7%,#46337f 21.3%,#433e85 23%,#3e4989 24.6%,#39558c 26.2%,#33628d 27.9%,#2e6e8e 29.5%,#29798e 31.1%,#25858e 32.8%,#20928c 34.4%,#1f9e89 36.1%,#23a983 37.7%,#2fb47c 39.3%,#42be71 41%,#56c667 42.6%,#6ccd5a 44.3%,#84d44b 45.9%,#98d83e 47.5%,#c0df25 50.8%,#e5e419 55.7%,#fbe723 60.7%,#fde725 63.9%,#f4e61e 86.9%,#f4e61e 100%)"></i>
<i style="top:194px;background:linear-gradient(90deg,#450457 0%,#46085c 8.2%,#471365 13.1%,#482071 16.4%,#46307e 19.7%,#443a83 21.3%,#404588 23%,#3c508b 24.6%,#365c8d 26.2%,#31688e 27.9%,#2c738e 29.5%,#277f8e 31.1%,#238a8d 32.8%,#1f968b 34.4%,#1fa287 36.1%,#27ad81 37.7%,#35b779 39.3%,#48c16e 41%,#5ec962 42.6%,#73d056 44.3%,#89d548 45.9%,#9dd93b 47.5%,#c2df23 50.8%,#e7e419 55.7%,#fbe723 60.7%,#fde725 63.9%,#f1e51d 82%,#f1e51d 100%)"></i>
<i style="top:196px;background:linear-gradient(90deg,#450559 0%,#460a5d 6.6%,#471365 11.5%,#481d6f 14.8%,#472e7c 18%,#453882 19.7%,#424186 21.3%,#3d4d8a 23%,#38588c 24.6%,#33638d 26.2%,#2e6f8e 27.9%,#29798e 29.5%,#25848e 31.1%,#21908d 32.8%,#1e9c89 34.4%,#22a785 36.1%,#2db27d 37.7%,#3dbc74 39.3%,#50c46a 41%,#65cb5e 42.6%,#7ad151 44.3%,#90d743 45.9%,#b8de29 49.2%,#d5e21a 52.5%,#f8e621 59%,#fde725 62.3%,#efe51c 78.7%,#ece51b 100%)"></i>
<i style="top:198px;background:linear-gradient(90deg,#46075a 0%,#470d60 6.6%,#481769 11.5%,#482475 14.8%,#453581 18%,#424086 19.7%,#3e4989 21.3%,#3a548c 23%,#34608d 24.6%,#2f6b8e 26.2%,#2b758e 27.9%,#26818e 29.5%,#228b8d 31.1%,#1f968b 32.8%,#1fa187 34.4%,#26ad81 36.1%,#34b679 37.7%,#46c06f 39.3%,#5ac864 41%,#6ece58 42.6%,#84d44b 44.3%,#98d83e 45.9%,#bddf26 49.2%,#e5e419 54.1%,#fde725 60.7%,#fde725 63.9%,#ece51b 78.7%,#e7e419 100%)"></i>
<i style="top:200px;background:linear-gradient(90deg,#460a5d 0%,#470e61 4.9%,#481c6e 11.5%,#472c7a 14.8%,#463480 16.4%,#423f85 18%,#3f4889 19.7%,#3b528b 21.3%,#365d8d 23%,#31688e 24.6%,#2c728e 26.2%,#277e8e 27.9%,#23888e 29.5%,#20928c 31.1%,#1e9d89 32.8%,#22a884 34.4%,#2db27d 36.1%,#3dbc74 37.7%,#50c46a 39.3%,#63cb5f 41%,#77d153 42.6%,#8ed645 44.3%,#b2dd2d 47.5%,#d2e21b 50.8%,#efe51c 55.7%,#fde725 60.7%,#fbe723 63.9%,#e7e419 77%,#e2e418 100%)"></i>
<i style="top:202px;background:linear-gradient(90deg,#470e61 0%,#471365 4.9%,#482475 11.5%,#46337f 14.8%,#433e85 16.4%,#3f4889 18%,#3b528b 19.7%,#365c8d 21.3%,#31668e 23%,#2d718e 24.6%,#297b8e 26.2%,#24868e 27.9%,#21908d 29.5%,#1f9a8a 31.1%,#20a486 32.8%,#28ae80 34.4%,#37b878 36.1%,#48c16e 37.7%,#5ac864 39.3%,#6ece58 41%,#84d44b 42.6%,#aadc32 45.9%,#cae11f 49.2%,#eae51a 54.1%,#fbe723 59%,#fde725 62.3%,#e7e419 73.8%,#dde318 90.2%,#dde318 100%)"></i>
<i style="top:204px;background:linear-gradient(90deg,#471365 0%,#48186a 4.9%,#482576 9.8%,#46337f 13.1%,#433d84 14.8%,#3f4788 16.4%,#3b528b 18%,#365c8d 19.7%,#31668e 21.3%,#2d708e 23%,#297a8e 24.6%,#25848e 26.2%,#218f8d 27.9%,#1f988b 29.5%,#1fa287 31.1%,#25ac82 32.8%,#32b67a 34.4%,#42be71 36.1%,#54c568 37.7%,#67cc5c 39.3%,#7ad151 41%,#a0da39 44.3%,#c2df23 47.5%,#e7e419 52.5%,#fde725 59%,#fde725 62.3%,#e2e418 73.8%,#d8e219 88.5%,#d5e21a 100%)"></i>
<i style="top:206px;background:linear-gradient(90deg,#48186a 0%,#481c6e 3.3%,#482979 8.2%,#463480 11.5%,#433d84 13.1%,#3f4788 14.8%,#3b528b 16.4%,#365c8d 18%,#31668e 19.7%,#2d708e 21.3%,#297a8e 23%,#25838e 24.6%,#218e8d 26.2%,#1f988b 27.9%,#1fa187 29.5%,#25ab82 31.1%,#2fb47c 32.8%,#3dbc74 34.4%,#50c46a 36.1%,#63cb5f 37.7%,#75d054 39.3%,#9bd93c 42.6%,#bddf26 45.9%,#e2e418 50.8%,#f6e620 55.7%,#fde725 60.7%,#f1e51d 65.6%,#dae319 75.4%,#d0e11c 90.2%,#cde11d 100%)"></i>
<i style="top:208px;background:linear-gradient(90deg,#482071 0%,#482475 3.3%,#46327e 8.2%,#423f85 11.5%,#3f4889 13.1%,#3b528b 14.8%,#365d8d 16.4%,#31678e 18%,#2d718e 19.7%,#297a8e 21.3%,#25848e 23%,#218e8d 24.6%,#1f988b 26.2%,#1fa187 27.9%,#24aa83 29.5%,#2eb37c 31.1%,#3bbb75 32.8%,#4cc26c 34.4%,#5ec962 36.1%,#70cf57 37.7%,#95d840 41%,#b8de29 44.3%,#dde318 49.2%,#f4e61e 54.1%,#fde725 59%,#fbe723 62.3%,#dae319 72.1%,#cae11f 83.6%,#c5e021 100%)"></i>
<i style="top:210px;background:linear-gradient(90deg,#482979 0%,#472d7b 3.3%,#433d84 8.2%,#3e4a89 11.5%,#3a538b 13.1%,#355e8d 14.8%,#31688e 16.4%,#2c728e 18%,#287c8e 19.7%,#25858e 21.3%,#218f8d 23%,#1f988b 24.6%,#1fa287 26.2%,#25ab82 27.9%,#2eb37c 29.5%,#3bbb75 31.1%,#4cc26c 32.8%,#5cc863 34.4%,#6ece58 36.1%,#90d743 39.3%,#b2dd2d 42.6%,#dae319 47.5%,#f4e61e 52.5%,#fde725 59%,#fbe723 62.3%,#dae319 70.5%,#c5e021 80.3%,#bddf26 100%)"></i>
<i style="top:212px;background:linear-gradient(90deg,#46337f 0%,#453882 3.3%,#3f4889 8.2%,#39568c 11.5%,#34608d 13.1%,#306a8e 14.8%,#2b748e 16.4%,#277e8e 18%,#24878e 19.7%,#21918c 21.3%,#1f9a8a 23%,#20a386 24.6%,#26ad81 26.2%,#31b57b 27.9%,#3dbc74 29.5%,#4cc26c 31.1%,#5cc863 32.8%,#7fd34e 36.1%,#a0da39 39.3%,#bddf26 42.6%,#e2e418 47.5%,#f6e620 52.5%,#fde725 59%,#f8e621 62.3%,#d5e21a 70.5%,#c0df25 78.7%,#b5de2b 93.4%,#b5de2b 100%)"></i>
<i style="top:214px;background:linear-gradient(90deg,#423f85 0%,#414487 3.3%,#3c4f8a 6.6%,#365c8d 9.8%,#33638d 11.5%,#2e6d8e 13.1%,#2a768e 14.8%,#26818e 16.4%,#238a8d 18%,#20938c 19.7%,#1e9c89 21.3%,#21a585 23%,#28ae80 24.6%,#34b679 26.2%,#40bd72 27.9%,#5ec962 31.1%,#7fd34e 34.4%,#a0da39 37.7%,#bddf26 41%,#dfe318 45.9%,#f4e61e 50.8%,#fde725 57.4%,#fbe723 60.7%,#d5e21a 68.9%,#bade28 77%,#addc30 90.2%,#addc30 100%)"></i>
<i style="top:216px;background:linear-gradient(90deg,#3d4d8a 0%,#3b528b 3.3%,#365d8d 6.6%,#306a8e 9.8%,#2d718e 11.5%,#29798e 13.1%,#25838e 14.8%,#228d8d 16.4%,#1f978b 18%,#1fa088 19.7%,#22a884 21.3%,#2ab07f 23%,#37b878 24.6%,#44bf70 26.2%,#63cb5f 29.5%,#84d44b 32.8%,#a2da37 36.1%,#cae11f 41%,#efe51c 47.5%,#fbe723 52.5%,#fde725 59%,#f4e61e 62.3%,#d0e11c 68.9%,#b2dd2d 77%,#a5db36 88.5%,#a2da37 100%)"></i>
<i style="top:218px;background:linear-gradient(90deg,#365c8d 0%,#365d8d 1.6%,#32658e 4.9%,#2c718e 8.2%,#277f8e 11.5%,#24878e 13.1%,#21918c 14.8%,#1f9a8a 16.4%,#20a386 18%,#25ac82 19.7%,#2fb47c 21.3%,#3bbb75 23%,#4ac16d 24.6%,#69cd5b 27.9%,#89d548 31.1%,#a5db36 34.4%,#cae11f 39.3%,#ece51b 45.9%,#fde725 52.5%,#fbe723 59%,#f1e51d 62.3%,#cae11f 68.9%,#aadc32 77%,#9bd93c 88.5%,#98d83e 100%)"></i>
<i style="top:220px;background:linear-gradient(90deg,#2f6b8e 0%,#2f6c8e 1.6%,#2b748e 4.9%,#26818e 8.2%,#228d8d 11.5%,#1f958b 13.1%,#1f9f88 14.8%,#22a884 16.4%,#2ab07f 18%,#37b878 19.7%,#42be71 21.3%,#63cb5f 24.6%,#81d34d 27.9%,#9dd93b 31.1%,#c2df23 36.1%,#e7e419 42.6%,#fbe723 49.2%,#fde725 55.7%,#f6e620 60.7%,#d5e21a 65.6%,#b2dd2d 72.1%,#9bd93c 80.3%,#90d743 93.4%,#8ed645 100%)"></i>
<i style="top:222px;background:linear-gradient(90deg,#297b8e 0%,#287c8e 1.6%,#25848e 4.9%,#21908d 8.2%,#1e9c89 11.5%,#20a486 13.1%,#26ad81 14.8%,#31b57b 16.4%,#3fbc73 18%,#5cc863 21.3%,#7ad151 24.6%,#98d83e 27.9%,#bade28 32.8%,#e2e418 39.3%,#fbe723 47.5%,#fde725 54.1%,#f8e621 59%,#eae51a 62.3%,#c5e021 67.2%,#a2da37 73.8%,#8ed645 82%,#86d549 96.7%,#84d44b 100%)"></i>
<i style="top:224px;background:linear-gradient(90deg,#228c8d 0%,#228d8d 1.6%,#1f958b 4.9%,#1fa088 8.2%,#25ac82 11.5%,#2eb37c 13.1%,#3aba76 14.8%,#4ac16d 16.4%,#67cc5c 19.7%,#84d44b 23%,#a0da39 26.2%,#c2df23 31.1%,#eae51a 39.3%,#fde725 47.5%,#fbe723 55.7%,#efe51c 60.7%,#cae11f 65.6%,#a2da37 72.1%,#8bd646 78.7%,#7cd250 90.2%,#7ad151 100%)"></i>
<i style="top:226px;background:linear-gradient(90deg,#1f9e89 0%,#1fa287 3.3%,#25ab82 6.6%,#31b57b 9.8%,#48c16e 13.1%,#65cb5e 16.4%,#84d44b 19.7%,#9dd93b 23%,#c2df23 27.9%,#e7e419 36.1%,#fbe723 44.3%,#fde725 52.5%,#f1e51d 59%,#dfe318 62.3%,#b8de29 67.2%,#93d741 73.8%,#7fd34e 80.3%,#73d056 91.8%,#70cf57 100%)"></i>
<i style="top:228px;background:linear-gradient(90deg,#2ab07f 0%,#2fb47c 3.3%,#44bf70 8.2%,#58c765 11.5%,#75d054 14.8%,#93d741 18%,#b8de29 23%,#dae319 29.5%,#f4e61e 37.7%,#fde725 45.9%,#f8e621 54.1%,#ece51b 59%,#d8e219 62.3%,#bade28 65.6%,#98d83e 70.5%,#7cd250 77%,#6ccd5a 86.9%,#67cc5c 100%)"></i>
<i style="top:230px;background:linear-gradient(90deg,#48c16e 0%,#4ec36b 3.3%,#67cc5c 8.2%,#89d548 13.1%,#b0dd2f 18%,#d5e21a 24.6%,#f1e51d 32.8%,#fde725 42.6%,#fbe723 50.8%,#ece51b 57.4%,#dde318 60.7%,#c2df23 63.9%,#9bd93c 68.9%,#7ad151 75.4%,#65cb5e 83.6%,#5ec962 98.4%,#5ec962 100%)"></i>
<i style="top:232px;background:linear-gradient(90deg,#6ece58 0%,#75d054 3.3%,#95d840 9.8%,#b5de2b 14.8%,#d8e219 21.3%,#f1e51d 29.5%,#fde725 39.3%,#f8e621 49.2%,#e7e419 57.4%,#d5e21a 60.7%,#bade28 63.9%,#9dd93b 67.2%,#7fd34e 72.1%,#65cb5e 78.7%,#58c765 88.5%,#54c568 100%)"></i>
<i style="top:234px;background:linear-gradient(90deg,#98d83e 0%,#a2da37 4.9%,#c5e021 13.1%,#e7e419 21.3%,#fbe723 31.1%,#fde725 42.6%,#efe51c 52.5%,#d8e219 59%,#c2df23 62.3%,#a2da37 65.6%,#7cd250 70.5%,#60ca60 77%,#52c569 85.2%,#4cc26c 100%)"></i>
<i style="top:236px;background:linear-gradient(90deg,#bddf26 0%,#cae11f 6.6%,#f1e51d 19.7%,#fde725 31.1%,#fbe723 42.6%,#e7e419 52.5%,#d0e11c 59%,#b8de29 62.3%,#98d83e 65.6%,#75d054 70.5%,#58c765 77%,#48c16e 85.2%,#42be71 100%)"></i>
<i style="top:238px;background:linear-gradient(90deg,#dde318 0%,#f4e61e 14.8%,#fde725 27.9%,#f8e621 41%,#e5e419 50.8%,#c8e020 59%,#addc30 62.3%,#8ed645 65.6%,#69cd5b 70.5%,#4ec36b 77%,#40bd72 85.2%,#3aba76 100%)"></i>
<i style="top:240px;background:linear-gradient(90deg,#f1e51d 0%,#fde725 24.6%,#f6e620 39.3%,#e2e418 49.2%,#c5e021 57.4%,#b2dd2d 60.7%,#93d741 63.9%,#77d153 67.2%,#58c765 72.1%,#42be71 78.7%,#37b878 88.5%,#34b679 100%)"></i>
<i style="top:242px;background:linear-gradient(90deg,#fde725 0%,#fde725 24.6%,#ece51b 41%,#d5e21a 50.8%,#b2dd2d 59%,#98d83e 62.3%,#7ad151 65.6%,#58c765 70.5%,#3fbc73 77%,#32b67a 85.2%,#2db27d 100%)"></i>
<i style="top:244px;background:linear-gradient(90deg,#fde725 0%,#f6e620 24.6%,#e5e419 41%,#c2df23 52.5%,#a8db34 59%,#8ed645 62.3%,#6ece58 65.6%,#4ec36b 70.5%,#37b878 77%,#2cb17e 85.2%,#27ad81 100%)"></i>
<i style="top:246px;background:linear-gradient(90deg,#f6e620 0%,#ece51b 24.6%,#dae319 41%,#b8de29 52.5%,#9bd93c 59%,#81d34d 62.3%,#65cb5e 65.6%,#46c06f 70.5%,#2fb47c 77%,#26ad81 85.2%,#24aa83 100%)"></i>
<i style="top:248px;background:linear-gradient(90deg,#e5e419 0%,#dfe318 24.6%,#d0e11c 39.3%,#b8de29 49.2%,#98d83e 57.4%,#77d153 62.3%,#5ac864 65.6%,#3dbc74 70.5%,#2ab07f 77%,#23a983 85.2%,#21a585 100%)"></i>
<i style="top:250px;background:linear-gradient(90deg,#c8e020 0%,#d0e11c 24.6%,#c2df23 39.3%,#a8db34 49.2%,#8bd646 57.4%,#6ccd5a 62.3%,#50c46a 65.6%,#37b878 70.5%,#25ac82 77%,#20a486 85.2%,#1fa188 100%)"></i>
<i style="top:252px;background:linear-gradient(90deg,#a2da37 0%,#bade28 23%,#b8de29 36.1%,#a5db36 45.9%,#84d44b 55.7%,#6ccd5a 60.7%,#52c569 63.9%,#3dbc74 67.2%,#2ab07f 72.1%,#21a585 78.7%,#1f9f88 86.9%,#1e9d89 100%)"></i>
<i style="top:254px;background:linear-gradient(90deg,#7ad151 0%,#8bd646 9.8%,#a2da37 21.3%,#a8db34 32.8%,#9bd93c 42.6%,#7cd250 54.1%,#67cc5c 59%,#48c16e 63.9%,#35b779 67.2%,#25ac82 72.1%,#1fa188 78.7%,#1e9b8a 86.9%,#1f988b 100%)"></i>
<i style="top:256px;background:linear-gradient(90deg,#52c569 0%,#5ec962 6.6%,#7fd34e 18%,#90d743 27.9%,#90d743 37.7%,#81d34d 47.5%,#63cb5f 57.4%,#4ac16d 62.3%,#35b779 65.6%,#25ab82 70.5%,#1f9f88 77%,#1f978b 85.2%,#20938c 100%)"></i>
<i style="top:258px;background:linear-gradient(90deg,#31b57b 0%,#38b977 4.9%,#50c46a 13.1%,#6ccd5a 21.3%,#7cd250 29.5%,#7cd250 39.3%,#6ccd5a 49.2%,#56c667 57.4%,#3fbc73 62.3%,#2eb37c 65.6%,#21a685 70.5%,#1f9a8a 77%,#20928c 85.2%,#21908d 100%)"></i>
<i style="top:260px;background:linear-gradient(90deg,#20a386 0%,#21a685 3.3%,#2fb47c 11.5%,#48c16e 18%,#5ec962 26.2%,#6ccd5a 34.4%,#69cd5b 42.6%,#56c667 52.5%,#44bf70 59%,#2eb37c 63.9%,#21a585 68.9%,#1f988b 75.4%,#21908d 83.6%,#228c8d 96.7%,#228b8d 100%)"></i>
<i style="top:262px;background:linear-gradient(90deg,#20928c 0%,#1f948c 3.3%,#1fa187 9.8%,#27ad81 14.8%,#3bbb75 21.3%,#50c46a 29.5%,#5ac864 37.7%,#54c568 45.9%,#3dbc74 57.4%,#2db27d 62.3%,#20a486 67.2%,#1f968b 73.8%,#218e8d 80.3%,#23888e 90.2%,#24878e 100%)"></i>
<i style="top:264px;background:linear-gradient(90deg,#27808e 0%,#25838e 3.3%,#20928c 9.8%,#1f9f88 14.8%,#25ac82 19.7%,#37b878 26.2%,#46c06f 34.4%,#48c16e 42.6%,#3dbc74 52.5%,#2fb47c 59%,#22a884 63.9%,#1e9c89 68.9%,#21908d 75.4%,#24878e 83.6%,#25838e 96.7%,#26828e 100%)"></i>
<i style="top:266px;background:linear-gradient(90deg,#2d708e 0%,#2c728e 3.3%,#277e8e 8.2%,#228c8d 13.1%,#1f968b 16.4%,#20a386 21.3%,#2ab07f 27.9%,#38b977 36.1%,#3aba76 44.3%,#2fb47c 54.1%,#25ac82 60.7%,#1f9f88 65.6%,#21918c 72.1%,#24878e 78.7%,#26818e 88.5%,#277f8e 100%)"></i>
<i style="top:268px;background:linear-gradient(90deg,#34608d 0%,#32648e 3.3%,#2d708e 8.2%,#277e8e 13.1%,#23898e 16.4%,#20938c 19.7%,#1fa088 24.6%,#25ac82 31.1%,#2db27d 37.7%,#2eb37c 45.9%,#26ad81 55.7%,#21a585 60.7%,#1f998a 65.6%,#228c8d 72.1%,#26828e 78.7%,#287d8e 88.5%,#297b8e 100%)"></i>
<i style="top:270px;background:linear-gradient(90deg,#3b518b 0%,#3a548c 3.3%,#34618d 8.2%,#2d718e 13.1%,#287d8e 16.4%,#24878e 19.7%,#1f958b 24.6%,#1fa287 31.1%,#24aa83 37.7%,#25ac82 45.9%,#21a685 55.7%,#1fa088 60.7%,#1f948c 65.6%,#24878e 72.1%,#287d8e 80.3%,#2a788e 91.8%,#2a768e 100%)"></i>
<i style="top:272px;background:linear-gradient(90deg,#414487 0%,#3f4788 3.3%,#3a538b 8.2%,#32648e 13.1%,#2d718e 16.4%,#287c8e 19.7%,#24868e 23%,#20928c 27.9%,#1f9e89 34.4%,#20a386 41%,#20a386 49.2%,#1e9d89 59%,#20928c 63.9%,#25858e 70.5%,#297a8e 78.7%,#2b748e 88.5%,#2c728e 100%)"></i>
<i style="top:274px;background:linear-gradient(90deg,#453781 0%,#443a83 3.3%,#3e4c8a 9.8%,#38588c 13.1%,#32658e 16.4%,#2d718e 19.7%,#297b8e 23%,#23898e 27.9%,#1f958b 34.4%,#1e9c89 41%,#1e9d89 49.2%,#1f968b 59%,#218e8d 63.9%,#26818e 70.5%,#2a768e 78.7%,#2d718e 90.2%,#2e6f8e 100%)"></i>
<i style="top:276px;background:linear-gradient(90deg,#472c7a 0%,#472f7d 3.3%,#424086 9.8%,#3e4c8a 13.1%,#375a8c 16.4%,#31668e 19.7%,#2d718e 23%,#277f8e 27.9%,#228d8d 34.4%,#1f948c 41%,#1f968b 49.2%,#21918c 59%,#23888e 63.9%,#287c8e 70.5%,#2c728e 78.7%,#2e6d8e 90.2%,#2f6b8e 100%)"></i>
<i style="top:278px;background:linear-gradient(90deg,#482374 0%,#482979 4.9%,#443a83 11.5%,#3f4788 14.8%,#39558c 18%,#34618d 21.3%,#2e6d8e 24.6%,#297a8e 29.5%,#24868e 36.1%,#218e8d 42.6%,#218f8d 50.8%,#228b8d 59%,#27808e 65.6%,#2c718e 75.4%,#306a8e 85.2%,#31678e 100%)"></i>
<i style="top:280px;background:linear-gradient(90deg,#481b6d 0%,#482071 4.9%,#46307e 11.5%,#433d84 14.8%,#3e4c8a 18%,#38588c 21.3%,#33638d 24.6%,#2c718e 29.5%,#277f8e 36.1%,#24868e 42.6%,#23888e 50.8%,#25848e 59%,#297b8e 65.6%,#2e6d8e 75.4%,#31668e 85.2%,#32648e 100%)"></i>
<i style="top:282px;background:linear-gradient(90deg,#481467 0%,#481a6c 4.9%,#482878 11.5%,#463480 14.8%,#424186 18%,#3d4e8a 21.3%,#375a8c 24.6%,#30698e 29.5%,#2a778e 36.1%,#277f8e 42.6%,#26828e 50.8%,#277f8e 59%,#2a768e 65.6%,#30698e 75.4%,#33628d 86.9%,#34608d 100%)"></i>
<i style="top:284px;background:linear-gradient(90deg,#471063 0%,#471365 4.9%,#482071 11.5%,#46327e 16.4%,#423f85 19.7%,#3e4a89 23%,#39568c 26.2%,#32658e 31.1%,#2c728e 37.7%,#297a8e 45.9%,#297b8e 54.1%,#2a788e 60.7%,#2f6b8e 70.5%,#34618d 80.3%,#365d8d 95.1%,#365c8d 100%)"></i>
<i style="top:286px;background:linear-gradient(90deg,#460b5e 0%,#471164 6.6%,#481a6c 11.5%,#472a7a 16.4%,#433d84 21.3%,#3f4889 24.6%,#38598c 29.5%,#31688e 36.1%,#2d718e 42.6%,#2b758e 50.8%,#2c738e 59%,#31668e 70.5%,#355e8d 80.3%,#38598c 95.1%,#38598c 100%)"></i>
<i style="top:288px;background:linear-gradient(90deg,#46085c 0%,#470d60 6.6%,#48186a 13.1%,#482979 18%,#443a83 23%,#3e4c8a 27.9%,#375a8c 32.8%,#31668e 39.3%,#2e6f8e 47.5%,#2e6f8e 57.4%,#306a8e 63.9%,#365c8d 77%,#39558c 90.2%,#39558c 100%)"></i>
<i style="top:290px;background:linear-gradient(90deg,#450559 0%,#460b5e 8.2%,#481467 13.1%,#482878 19.7%,#443983 24.6%,#3e4989 29.5%,#375a8c 36.1%,#31668e 44.3%,#306a8e 52.5%,#31688e 60.7%,#38598c 75.4%,#3b528b 88.5%,#3b518b 100%)"></i>
<i style="top:292px;background:linear-gradient(90deg,#450457 0%,#460a5d 9.8%,#481467 14.8%,#482677 21.3%,#453882 26.2%,#404688 31.1%,#39558c 37.7%,#34618d 45.9%,#32648e 54.1%,#33628d 62.3%,#3a548c 77%,#3c4f8a 91.8%,#3d4e8a 100%)"></i>
<i style="top:294px;background:linear-gradient(90deg,#440256 0%,#46075a 9.8%,#471063 14.8%,#482173 21.3%,#46307e 26.2%,#423f85 31.1%,#3c4f8a 37.7%,#375b8d 45.9%,#355f8d 54.1%,#365d8d 62.3%,#3c4f8a 78.7%,#3e4a89 96.7%,#3e4a89 100%)"></i>
<i style="top:296px;background:linear-gradient(90deg,#440256 0%,#46075a 11.5%,#481467 18%,#482576 24.6%,#463480 29.5%,#404588 36.1%,#3a538b 44.3%,#38598c 52.5%,#38598c 60.7%,#3e4a89 80.3%,#3f4788 100%)"></i>
<i style="top:298px;background:linear-gradient(90deg,#440154 0%,#450559 11.5%,#471063 18%,#482071 24.6%,#46337f 31.1%,#414287 37.7%,#3c4f8a 45.9%,#3a538b 54.1%,#3a538b 62.3%,#3f4788 80.3%,#414487 100%)"></i>
<i style="top:300px;background:linear-gradient(90deg,#440154 0%,#450559 13.1%,#481467 21.3%,#482576 27.9%,#453581 34.4%,#404588 42.6%,#3d4d8a 50.8%,#3c4f8a 60.7%,#414287 83.6%,#424086 100%)"></i>
<i style="top:302px;background:linear-gradient(90deg,#440154 0%,#450457 13.1%,#471063 21.3%,#482475 29.5%,#453781 37.7%,#404588 47.5%,#3e4a89 57.4%,#3f4889 65.6%,#423f85 85.2%,#433e85 100%)"></i>
<i style="top:304px;background:linear-gradient(90deg,#440154 0%,#450457 14.8%,#471063 23%,#482374 31.1%,#463480 39.3%,#424186 49.2%,#404688 60.7%,#443b84 86.9%,#443a83 100%)"></i>
<i style="top:306px;background:linear-gradient(90deg,#440154 0%,#440256 14.8%,#470d60 23%,#481f70 31.1%,#472f7d 39.3%,#433d84 49.2%,#424186 60.7%,#453882 90.2%,#453882 100%)"></i>
<i style="top:308px;background:linear-gradient(90deg,#440154 0%,#450457 16.4%,#470e61 24.6%,#482173 34.4%,#463480 45.9%,#443b84 55.7%,#443b84 65.6%,#453581 93.4%,#463480 100%)"></i>
<i style="top:310px;background:linear-gradient(90deg,#440154 0%,#440256 16.4%,#460b5e 24.6%,#481d6f 34.4%,#472f7d 45.9%,#453781 55.7%,#453882 65.6%,#46327e 96.7%,#46327e 100%)"></i>
<i style="top:312px;background:linear-gradient(90deg,#440154 0%,#440256 18%,#460b5e 26.2%,#482071 37.7%,#472f7d 49.2%,#463480 62.3%,#472f7d 100%)"></i>
<i style="top:314px;background:linear-gradient(90deg,#440154 0%,#440256 19.7%,#470e61 29.5%,#482173 41%,#472d7b 52.5%,#46307e 63.9%,#472d7b 100%)"></i>
<i style="top:316px;background:linear-gradient(90deg,#440154 0%,#440256 19.7%,#470d60 29.5%,#482071 42.6%,#472a7a 54.1%,#472d7b 67.2%,#472a7a 100%)"></i>
<i style="top:318px;background:linear-gradient(90deg,#440154 0%,#440256 21.3%,#471063 32.8%,#482475 49.2%,#472a7a 63.9%,#482878 100%)"></i>
<i style="top:320px;background:linear-gradient(90deg,#440154 0%,#440256 23%,#471164 36.1%,#482173 50.8%,#482677 65.6%,#482576 100%)"></i>
<i style="top:322px;background:linear-gradient(90deg,#440154 0%,#440256 23%,#471063 36.1%,#482071 52.5%,#482475 68.9%,#482475 100%)"></i>
<i style="top:324px;background:linear-gradient(90deg,#440154 0%,#440256 24.6%,#471164 39.3%,#481d6f 54.1%,#482173 72.1%,#482173 100%)"></i>
<i style="top:326px;background:linear-gradient(90deg,#440154 0%,#440256 24.6%,#471063 41%,#481c6e 57.4%,#482071 82%,#482071 100%)"></i>
<i style="top:328px;background:linear-gradient(90deg,#440154 0%,#440256 26.2%,#48186a 54.1%,#481d6f 75.4%,#481d6f 100%)"></i>
<i style="top:330px;background:linear-gradient(90deg,#440154 0%,#440256 27.9%,#481769 57.4%,#481c6e 83.6%,#481c6e 100%)"></i>
<i style="top:332px;background:linear-gradient(90deg,#440154 0%,#440256 27.9%,#481668 59%,#481a6c 88.5%,#481a6c 100%)"></i>
<i style="top:334px;background:linear-gradient(90deg,#440154 0%,#440256 29.5%,#481467 60.7%,#48186a 93.4%,#48186a 100%)"></i>
<i style="top:336px;background:linear-gradient(90deg,#440154 0%,#440256 31.1%,#471365 62.3%,#481769 96.7%,#481769 100%)"></i>
<i style="top:338px;background:linear-gradient(90deg,#440154 0%,#440256 32.8%,#471365 65.6%,#481668 100%)"></i>
<i style="top:340px;background:linear-gradient(90deg,#440154 0%,#440256 32.8%,#471164 68.9%,#481467 100%)"></i>
<i style="top:342px;background:linear-gradient(90deg,#440154 0%,#440256 34.4%,#471164 73.8%,#471365 100%)"></i>
<i style="top:344px;background:linear-gradient(90deg,#440154 0%,#440256 36.1%,#471063 77%,#471164 100%)"></i>
<i style="top:346px;background:linear-gradient(90deg,#440154 0%,#440256 37.7%,#471063 80.3%,#471063 100%)"></i>
<i style="top:348px;background:linear-gradient(90deg,#440154 0%,#440256 39.3%,#470e61 83.6%,#470e61 100%)"></i>
<i style="top:350px;background:linear-gradient(90deg,#440154 0%,#440256 39.3%,#470d60 86.9%,#470e61 100%)"></i>
<i style="top:352px;background:linear-gradient(90deg,#440154 0%,#440256 41%,#470d60 88.5%,#470d60 100%)"></i>
<i style="top:354px;background:linear-gradient(90deg,#440154 0%,#440256 44.3%,#460b5e 91.8%,#460b5e 100%)"></i>
<i style="top:356px;background:linear-gradient(90deg,#440154 0%,#440256 45.9%,#460b5e 93.4%,#460b5e 100%)"></i>
<i style="top:358px;background:linear-gradient(90deg,#440154 0%,#440256 47.5%,#460a5d 96.7%,#460a5d 100%)"></i>
<i style="top:360px;background:linear-gradient(90deg,#440154 0%,#440256 49.2%,#460a5d 98.4%,#460a5d 100%)"></i>
<i style="top:362px;background:linear-gradient(90deg,#440154 0%,#440256 52.5%,#46085c 100%)"></i>
</div>
<svg id="ov" width="1920" height="1080" viewBox="0 0 1920 1080">
<defs><linearGradient id="gL" gradientUnits="userSpaceOnUse" x1="0" y1="237" x2="0" y2="600"><stop offset="0.000" stop-color="#440154"/><stop offset="0.017" stop-color="#440154"/><stop offset="0.034" stop-color="#440154"/><stop offset="0.051" stop-color="#440154"/><stop offset="0.068" stop-color="#440154"/><stop offset="0.085" stop-color="#440154"/><stop offset="0.102" stop-color="#440154"/><stop offset="0.119" stop-color="#440154"/><stop offset="0.136" stop-color="#440154"/><stop offset="0.153" stop-color="#440154"/><stop offset="0.169" stop-color="#440154"/><stop offset="0.186" stop-color="#440154"/><stop offset="0.203" stop-color="#440256"/><stop offset="0.220" stop-color="#460a5d"/><stop offset="0.237" stop-color="#481c6e"/><stop offset="0.254" stop-color="#414487"/><stop offset="0.271" stop-color="#287d8e"/><stop offset="0.288" stop-color="#44bf70"/><stop offset="0.305" stop-color="#d2e21b"/><stop offset="0.322" stop-color="#fbe723"/><stop offset="0.339" stop-color="#9bd93c"/><stop offset="0.356" stop-color="#20a386"/><stop offset="0.373" stop-color="#33638d"/><stop offset="0.390" stop-color="#46307e"/><stop offset="0.407" stop-color="#471365"/><stop offset="0.424" stop-color="#450559"/><stop offset="0.441" stop-color="#440154"/><stop offset="0.458" stop-color="#440154"/><stop offset="0.475" stop-color="#440154"/><stop offset="0.492" stop-color="#440154"/><stop offset="0.508" stop-color="#440154"/><stop offset="0.525" stop-color="#440154"/><stop offset="0.542" stop-color="#440154"/><stop offset="0.559" stop-color="#440256"/><stop offset="0.576" stop-color="#46085c"/><stop offset="0.593" stop-color="#481a6c"/><stop offset="0.610" stop-color="#433d84"/><stop offset="0.627" stop-color="#2b748e"/><stop offset="0.644" stop-color="#34b679"/><stop offset="0.661" stop-color="#c5e021"/><stop offset="0.678" stop-color="#fde725"/><stop offset="0.695" stop-color="#addc30"/><stop offset="0.712" stop-color="#25ac82"/><stop offset="0.729" stop-color="#2f6b8e"/><stop offset="0.746" stop-color="#453581"/><stop offset="0.763" stop-color="#481668"/><stop offset="0.780" stop-color="#46075a"/><stop offset="0.797" stop-color="#440154"/><stop offset="0.814" stop-color="#440154"/><stop offset="0.831" stop-color="#440154"/><stop offset="0.847" stop-color="#440154"/><stop offset="0.864" stop-color="#440154"/><stop offset="0.881" stop-color="#440154"/><stop offset="0.898" stop-color="#440154"/><stop offset="0.915" stop-color="#440154"/><stop offset="0.932" stop-color="#440154"/><stop offset="0.949" stop-color="#440154"/><stop offset="0.966" stop-color="#440154"/><stop offset="0.983" stop-color="#440154"/><stop offset="1.000" stop-color="#440154"/></linearGradient><linearGradient id="gR" gradientUnits="userSpaceOnUse" x1="0" y1="237" x2="0" y2="600"><stop offset="0.000" stop-color="#46085c"/><stop offset="0.017" stop-color="#460a5d"/><stop offset="0.034" stop-color="#470d60"/><stop offset="0.051" stop-color="#471164"/><stop offset="0.068" stop-color="#481467"/><stop offset="0.085" stop-color="#481a6c"/><stop offset="0.102" stop-color="#481f70"/><stop offset="0.119" stop-color="#482576"/><stop offset="0.136" stop-color="#472d7b"/><stop offset="0.153" stop-color="#453581"/><stop offset="0.169" stop-color="#423f85"/><stop offset="0.186" stop-color="#3e4989"/><stop offset="0.203" stop-color="#3a548c"/><stop offset="0.220" stop-color="#34608d"/><stop offset="0.237" stop-color="#2f6c8e"/><stop offset="0.254" stop-color="#2a788e"/><stop offset="0.271" stop-color="#25848e"/><stop offset="0.288" stop-color="#20928c"/><stop offset="0.305" stop-color="#1fa088"/><stop offset="0.322" stop-color="#27ad81"/><stop offset="0.339" stop-color="#3bbb75"/><stop offset="0.356" stop-color="#58c765"/><stop offset="0.373" stop-color="#75d054"/><stop offset="0.390" stop-color="#95d840"/><stop offset="0.407" stop-color="#b5de2b"/><stop offset="0.424" stop-color="#cde11d"/><stop offset="0.441" stop-color="#e2e418"/><stop offset="0.458" stop-color="#f1e51d"/><stop offset="0.475" stop-color="#fbe723"/><stop offset="0.492" stop-color="#fde725"/><stop offset="0.508" stop-color="#fde725"/><stop offset="0.525" stop-color="#f4e61e"/><stop offset="0.542" stop-color="#e7e419"/><stop offset="0.559" stop-color="#d2e21b"/><stop offset="0.576" stop-color="#bade28"/><stop offset="0.593" stop-color="#9bd93c"/><stop offset="0.610" stop-color="#7cd250"/><stop offset="0.627" stop-color="#5cc863"/><stop offset="0.644" stop-color="#40bd72"/><stop offset="0.661" stop-color="#2ab07f"/><stop offset="0.678" stop-color="#1fa287"/><stop offset="0.695" stop-color="#1f948c"/><stop offset="0.712" stop-color="#24878e"/><stop offset="0.729" stop-color="#297a8e"/><stop offset="0.746" stop-color="#2e6e8e"/><stop offset="0.763" stop-color="#33628d"/><stop offset="0.780" stop-color="#39568c"/><stop offset="0.797" stop-color="#3e4c8a"/><stop offset="0.814" stop-color="#424186"/><stop offset="0.831" stop-color="#453882"/><stop offset="0.847" stop-color="#472e7c"/><stop offset="0.864" stop-color="#482677"/><stop offset="0.881" stop-color="#482071"/><stop offset="0.898" stop-color="#481b6d"/><stop offset="0.915" stop-color="#481668"/><stop offset="0.932" stop-color="#471164"/><stop offset="0.949" stop-color="#470e61"/><stop offset="0.966" stop-color="#460b5e"/><stop offset="0.983" stop-color="#46085c"/><stop offset="1.000" stop-color="#46075a"/></linearGradient>
<clipPath id="cp"><rect x="371" y="237" width="1226" height="363"/></clipPath>
</defs>
<!-- side panels -->
<rect x="240.5" y="237.7" width="121.5" height="361.4" fill="#fff" stroke="#1c1b2b" stroke-width="3"/>
<rect x="1606.5" y="237.7" width="121.5" height="361.4" fill="#fff" stroke="#1c1b2b" stroke-width="3"/>
<polyline points="241.3,237 241.3,238 241.3,239 241.3,240 241.3,241 241.3,242 241.3,243 241.3,244 241.3,245 241.3,246 241.3,247 241.3,248 241.3,249 241.3,250 241.3,251 241.3,252 241.3,253 241.3,254 241.3,255 241.3,256 241.3,257 241.3,258 241.3,259 241.3,260 241.3,261 241.3,262 241.3,263 241.3,264 241.3,265 241.3,266 241.3,267 241.3,268 241.3,269 241.3,270 241.3,271 241.3,272 241.3,273 241.3,274 241.3,275 241.3,276 241.3,277 241.3,278 241.3,279 241.3,280 241.3,281 241.3,282 241.3,283 241.3,284 241.3,285 241.3,286 241.3,287 241.3,288 241.3,289 241.3,290 241.3,291 241.3,292 241.3,293 241.3,294 241.3,295 241.3,296 241.3,297 241.3,298 241.3,299 241.3,300 241.3,301 241.4,302 241.4,303 241.4,304 241.4,305 241.5,306 241.5,307 241.6,308 241.7,309 241.8,310 242.0,311 242.1,312 242.4,313 242.6,314 243.0,315 243.4,316 243.9,317 244.5,318 245.2,319 246.1,320 247.0,321 248.2,322 249.6,323 251.1,324 252.9,325 254.9,326 257.2,327 259.7,328 262.5,329 265.6,330 269.0,331 272.7,332 276.7,333 280.9,334 285.4,335 290.1,336 295.0,337 300.0,338 305.1,339 310.2,340 315.3,341 320.4,342 325.2,343 329.9,344 334.2,345 338.2,346 341.8,347 344.9,348 347.4,349 349.4,350 350.7,351 351.4,352 351.5,353 350.9,354 349.7,355 347.8,356 345.4,357 342.4,358 339.0,359 335.1,360 330.8,361 326.2,362 321.4,363 316.4,364 311.3,365 306.1,366 301.0,367 296.0,368 291.1,369 286.3,370 281.8,371 277.5,372 273.5,373 269.7,374 266.3,375 263.1,376 260.2,377 257.6,378 255.3,379 253.3,380 251.4,381 249.8,382 248.5,383 247.3,384 246.2,385 245.4,386 244.6,387 244.0,388 243.5,389 243.1,390 242.7,391 242.4,392 242.2,393 242.0,394 241.8,395 241.7,396 241.6,397 241.5,398 241.5,399 241.4,400 241.4,401 241.4,402 241.4,403 241.3,404 241.3,405 241.3,406 241.3,407 241.3,408 241.3,409 241.3,410 241.3,411 241.3,412 241.3,413 241.3,414 241.3,415 241.3,416 241.3,417 241.3,418 241.3,419 241.3,420 241.3,421 241.3,422 241.3,423 241.3,424 241.3,425 241.3,426 241.3,427 241.3,428 241.3,429 241.3,430 241.3,431 241.4,432 241.4,433 241.4,434 241.4,435 241.5,436 241.5,437 241.6,438 241.7,439 241.8,440 242.0,441 242.1,442 242.4,443 242.6,444 243.0,445 243.4,446 243.9,447 244.5,448 245.2,449 246.1,450 247.0,451 248.2,452 249.6,453 251.1,454 252.9,455 254.9,456 257.2,457 259.7,458 262.5,459 265.6,460 269.0,461 272.7,462 276.7,463 280.9,464 285.4,465 290.1,466 295.0,467 300.0,468 305.1,469 310.2,470 315.3,471 320.4,472 325.2,473 329.9,474 334.2,475 338.2,476 341.8,477 344.9,478 347.4,479 349.4,480 350.7,481 351.4,482 351.5,483 350.9,484 349.7,485 347.8,486 345.4,487 342.4,488 339.0,489 335.1,490 330.8,491 326.2,492 321.4,493 316.4,494 311.3,495 306.1,496 301.0,497 296.0,498 291.1,499 286.3,500 281.8,501 277.5,502 273.5,503 269.7,504 266.3,505 263.1,506 260.2,507 257.6,508 255.3,509 253.3,510 251.4,511 249.8,512 248.5,513 247.3,514 246.2,515 245.4,516 244.6,517 244.0,518 243.5,519 243.1,520 242.7,521 242.4,522 242.2,523 242.0,524 241.8,525 241.7,526 241.6,527 241.5,528 241.5,529 241.4,530 241.4,531 241.4,532 241.4,533 241.3,534 241.3,535 241.3,536 241.3,537 241.3,538 241.3,539 241.3,540 241.3,541 241.3,542 241.3,543 241.3,544 241.3,545 241.3,546 241.3,547 241.3,548 241.3,549 241.3,550 241.3,551 241.3,552 241.3,553 241.3,554 241.3,555 241.3,556 241.3,557 241.3,558 241.3,559 241.3,560 241.3,561 241.3,562 241.3,563 241.3,564 241.3,565 241.3,566 241.3,567 241.3,568 241.3,569 241.3,570 241.3,571 241.3,572 241.3,573 241.3,574 241.3,575 241.3,576 241.3,577 241.3,578 241.3,579 241.3,580 241.3,581 241.3,582 241.3,583 241.3,584 241.3,585 241.3,586 241.3,587 241.3,588 241.3,589 241.3,590 241.3,591 241.3,592 241.3,593 241.3,594 241.3,595 241.3,596 241.3,597 241.3,598 241.3,599 241.3,600" fill="none" stroke="url(#gL)" stroke-width="4.8" stroke-linejoin="round"/>
<polyline points="1609.5,237 1609.6,238 1609.7,239 1609.8,240 1609.9,241 1610.1,242 1610.2,243 1610.3,244 1610.4,245 1610.6,246 1610.7,247 1610.8,248 1611.0,249 1611.1,250 1611.3,251 1611.5,252 1611.6,253 1611.8,254 1612.0,255 1612.2,256 1612.4,257 1612.6,258 1612.8,259 1613.0,260 1613.2,261 1613.4,262 1613.7,263 1613.9,264 1614.2,265 1614.4,266 1614.7,267 1615.0,268 1615.3,269 1615.5,270 1615.8,271 1616.1,272 1616.5,273 1616.8,274 1617.1,275 1617.5,276 1617.8,277 1618.2,278 1618.5,279 1618.9,280 1619.3,281 1619.7,282 1620.1,283 1620.6,284 1621.0,285 1621.4,286 1621.9,287 1622.3,288 1622.8,289 1623.3,290 1623.8,291 1624.3,292 1624.8,293 1625.4,294 1625.9,295 1626.5,296 1627.0,297 1627.6,298 1628.2,299 1628.8,300 1629.4,301 1630.1,302 1630.7,303 1631.3,304 1632.0,305 1632.7,306 1633.4,307 1634.1,308 1634.8,309 1635.5,310 1636.2,311 1637.0,312 1637.8,313 1638.5,314 1639.3,315 1640.1,316 1640.9,317 1641.7,318 1642.6,319 1643.4,320 1644.3,321 1645.1,322 1646.0,323 1646.9,324 1647.8,325 1648.7,326 1649.6,327 1650.5,328 1651.4,329 1652.4,330 1653.3,331 1654.3,332 1655.3,333 1656.2,334 1657.2,335 1658.2,336 1659.2,337 1660.2,338 1661.2,339 1662.2,340 1663.3,341 1664.3,342 1665.3,343 1666.4,344 1667.4,345 1668.4,346 1669.5,347 1670.5,348 1671.6,349 1672.6,350 1673.7,351 1674.7,352 1675.8,353 1676.9,354 1677.9,355 1679.0,356 1680.0,357 1681.1,358 1682.1,359 1683.1,360 1684.2,361 1685.2,362 1686.2,363 1687.2,364 1688.2,365 1689.3,366 1690.3,367 1691.2,368 1692.2,369 1693.2,370 1694.1,371 1695.1,372 1696.0,373 1697.0,374 1697.9,375 1698.8,376 1699.7,377 1700.5,378 1701.4,379 1702.2,380 1703.1,381 1703.9,382 1704.7,383 1705.4,384 1706.2,385 1706.9,386 1707.7,387 1708.4,388 1709.0,389 1709.7,390 1710.3,391 1710.9,392 1711.5,393 1712.1,394 1712.7,395 1713.2,396 1713.7,397 1714.2,398 1714.6,399 1715.1,400 1715.5,401 1715.9,402 1716.2,403 1716.6,404 1716.9,405 1717.2,406 1717.4,407 1717.6,408 1717.8,409 1718.0,410 1718.2,411 1718.3,412 1718.4,413 1718.4,414 1718.5,415 1718.5,416 1718.5,417 1718.4,418 1718.4,419 1718.3,420 1718.2,421 1718.0,422 1717.8,423 1717.6,424 1717.4,425 1717.2,426 1716.9,427 1716.6,428 1716.2,429 1715.9,430 1715.5,431 1715.1,432 1714.6,433 1714.2,434 1713.7,435 1713.2,436 1712.7,437 1712.1,438 1711.5,439 1710.9,440 1710.3,441 1709.7,442 1709.0,443 1708.4,444 1707.7,445 1706.9,446 1706.2,447 1705.4,448 1704.7,449 1703.9,450 1703.1,451 1702.2,452 1701.4,453 1700.5,454 1699.7,455 1698.8,456 1697.9,457 1697.0,458 1696.0,459 1695.1,460 1694.1,461 1693.2,462 1692.2,463 1691.2,464 1690.3,465 1689.3,466 1688.2,467 1687.2,468 1686.2,469 1685.2,470 1684.2,471 1683.1,472 1682.1,473 1681.1,474 1680.0,475 1679.0,476 1677.9,477 1676.9,478 1675.8,479 1674.7,480 1673.7,481 1672.6,482 1671.6,483 1670.5,484 1669.5,485 1668.4,486 1667.4,487 1666.4,488 1665.3,489 1664.3,490 1663.3,491 1662.2,492 1661.2,493 1660.2,494 1659.2,495 1658.2,496 1657.2,497 1656.2,498 1655.3,499 1654.3,500 1653.3,501 1652.4,502 1651.4,503 1650.5,504 1649.6,505 1648.7,506 1647.8,507 1646.9,508 1646.0,509 1645.1,510 1644.3,511 1643.4,512 1642.6,513 1641.7,514 1640.9,515 1640.1,516 1639.3,517 1638.5,518 1637.8,519 1637.0,520 1636.2,521 1635.5,522 1634.8,523 1634.1,524 1633.4,525 1632.7,526 1632.0,527 1631.3,528 1630.7,529 1630.1,530 1629.4,531 1628.8,532 1628.2,533 1627.6,534 1627.0,535 1626.5,536 1625.9,537 1625.4,538 1624.8,539 1624.3,540 1623.8,541 1623.3,542 1622.8,543 1622.3,544 1621.9,545 1621.4,546 1621.0,547 1620.6,548 1620.1,549 1619.7,550 1619.3,551 1618.9,552 1618.5,553 1618.2,554 1617.8,555 1617.5,556 1617.1,557 1616.8,558 1616.5,559 1616.1,560 1615.8,561 1615.5,562 1615.3,563 1615.0,564 1614.7,565 1614.4,566 1614.2,567 1613.9,568 1613.7,569 1613.4,570 1613.2,571 1613.0,572 1612.8,573 1612.6,574 1612.4,575 1612.2,576 1612.0,577 1611.8,578 1611.6,579 1611.5,580 1611.3,581 1611.1,582 1611.0,583 1610.8,584 1610.7,585 1610.6,586 1610.4,587 1610.3,588 1610.2,589 1610.1,590 1609.9,591 1609.8,592 1609.7,593 1609.6,594 1609.5,595 1609.4,596 1609.3,597 1609.3,598 1609.2,599 1609.1,600" fill="none" stroke="url(#gR)" stroke-width="4.8" stroke-linejoin="round"/>
<!-- heatmap frame -->
<rect x="371" y="237" width="1226" height="363" fill="none" stroke="#1c1b2b" stroke-width="1.6"/>
<g clip-path="url(#cp)">
<g fill="none" stroke="#fff" stroke-width="3.3" stroke-linecap="round">
<path d="M371,333.8 383,333.3 395,332.9 407,332.4 419,331.9 431,331.4 443,331.0 455,330.5 467,330.0 479,329.5 491,329.0 503,328.5 515,328.0 527,327.4 539,326.9 551,326.4 563,325.9 575,325.4 587,324.8 599,324.3 611,323.8 623,323.2 635,322.7 647,322.1 659,321.6 671,321.0 683,320.5 695,319.9 707,319.3 719,318.7 731,318.1 743,317.5 755,316.9 767,316.3 779,315.8 791,315.4 803,314.9 815,314.5 827,314.1 839,313.7 851,313.3 863,312.9 875,312.5 887,312.1 899,311.8 911,311.4 923,311.1 935,310.8 947,310.4 959,310.1 971,309.8 983,309.5 995,309.3 1007,309.0 1019,308.7 1031,308.4 1043,308.1 1055,307.9 1067,307.6 1079,307.4 1091,307.1 1103,306.9 1115,306.7 1127,306.4 1139,306.2 1151,306.1 1163,305.9 1175,305.8 1187,305.6 1199,305.5 1211,305.4 1223,305.3 1235,305.2 1247,305.1 1259,305.0 1271,304.9 1283,304.9 1295,304.8 1307,304.7 1319,304.6 1331,304.6 1343,304.5 1355,304.5 1367,304.4 1379,304.4 1391,304.3 1403,304.3 1415,304.3 1427,304.2 1439,304.2 1451,304.1 1463,304.1 1475,304.1 1487,304.1 1499,304.0 1511,304.0 1523,304.0 1535,304.0 1547,303.9 1559,303.9 1571,303.9 1583,303.9 1595,303.9 1597,303.9"/>
<path d="M371,353.2 383,353.2 395,353.2 407,353.2 419,353.2 431,353.2 443,353.3 455,353.3 467,353.3 479,353.3 491,353.4 503,353.4 515,353.5 527,353.5 539,353.5 551,353.6 563,353.6 575,353.7 587,353.8 599,353.8 611,353.9 623,353.9 635,354.0 647,354.1 659,354.1 671,354.2 683,354.3 695,354.4 707,354.5 719,354.6 731,354.8 743,355.0 755,355.2 767,355.4 779,355.6 791,355.8 803,356.0 815,356.2 827,356.4 839,356.7 851,356.9 863,357.1 875,357.4 887,357.6 899,357.9 911,358.1 923,358.4 935,358.6 947,358.9 959,359.1 971,359.3 983,359.6 995,359.8 1007,360.0 1019,360.2 1031,360.4 1043,360.7 1055,360.9 1067,361.1 1079,361.3 1091,361.5 1103,361.7 1115,361.9 1127,362.1 1139,362.3 1151,362.5 1163,362.6 1175,362.8 1187,363.0 1199,363.1 1211,363.3 1223,363.4 1235,363.5 1247,363.7 1259,363.8 1271,364.0 1283,364.1 1295,364.2 1307,364.4 1319,364.5 1331,364.6 1343,364.7 1355,364.8 1367,364.8 1379,364.9 1391,365.0 1403,365.0 1415,365.0 1427,365.1 1439,365.1 1451,365.2 1463,365.2 1475,365.2 1487,365.3 1499,365.3 1511,365.3 1523,365.3 1535,365.4 1547,365.4 1559,365.4 1571,365.4 1583,365.4 1595,365.4 1597,365.4"/>
<path d="M371,365.6 383,366.1 395,366.5 407,367.0 419,367.5 431,368.0 443,368.6 455,369.1 467,369.7 479,370.3 491,370.8 503,371.4 515,372.1 527,372.7 539,373.3 551,374.0 563,374.6 575,375.3 587,375.9 599,376.6 611,377.3 623,378.0 635,378.7 647,379.4 659,380.1 671,380.9 683,381.6 695,382.3 707,383.2 719,384.1 731,385.0 743,385.9 755,386.7 767,387.5 779,388.2 791,388.9 803,389.5 815,390.1 827,390.7 839,391.2 851,391.8 863,392.3 875,392.8 887,393.3 899,393.8 911,394.3 923,394.7 935,395.2 947,395.6 959,396.0 971,396.4 983,396.7 995,397.1 1007,397.5 1019,397.8 1031,398.2 1043,398.6 1055,398.9 1067,399.3 1079,399.6 1091,399.9 1103,400.2 1115,400.5 1127,400.7 1139,401.0 1151,401.2 1163,401.3 1175,401.5 1187,401.6 1199,401.7 1211,401.7 1223,401.8 1235,401.8 1247,401.9 1259,401.9 1271,402.0 1283,402.0 1295,402.1 1307,402.1 1319,402.2 1331,402.2 1343,402.2 1355,402.2 1367,402.3 1379,402.3 1391,402.3 1403,402.3 1415,402.3 1427,402.3 1439,402.3 1451,402.3 1463,402.3 1475,402.4 1487,402.4 1499,402.4 1511,402.4 1523,402.4 1535,402.4 1547,402.4 1559,402.4 1571,402.4 1583,402.4 1595,402.4 1597,402.4"/>
<path d="M371,469.5 383,469.0 395,468.5 407,467.9 419,467.4 431,466.9 443,466.3 455,465.8 467,465.2 479,464.6 491,464.1 503,463.5 515,462.9 527,462.3 539,461.7 551,461.1 563,460.5 575,459.9 587,459.3 599,458.7 611,458.1 623,457.5 635,456.8 647,456.2 659,455.6 671,454.9 683,454.3 695,453.7 707,453.0 719,452.3 731,451.6 743,450.9 755,450.2 767,449.5 779,448.9 791,448.2 803,447.6 815,447.0 827,446.3 839,445.7 851,445.0 863,444.4 875,443.8 887,443.2 899,442.6 911,442.1 923,441.5 935,441.1 947,440.6 959,440.2 971,439.8 983,439.5 995,439.3 1007,439.0 1019,438.8 1031,438.6 1043,438.4 1055,438.2 1067,438.0 1079,437.8 1091,437.6 1103,437.4 1115,437.3 1127,437.1 1139,437.0 1151,436.9 1163,436.8 1175,436.6 1187,436.5 1199,436.4 1211,436.3 1223,436.2 1235,436.1 1247,436.0 1259,435.9 1271,435.8 1283,435.7 1295,435.7 1307,435.6 1319,435.5 1331,435.5 1343,435.4 1355,435.3 1367,435.3 1379,435.2 1391,435.2 1403,435.2 1415,435.2 1427,435.2 1439,435.1 1451,435.1 1463,435.1 1475,435.1 1487,435.1 1499,435.1 1511,435.0 1523,435.0 1535,435.0 1547,435.0 1559,435.0 1571,435.0 1583,435.0 1595,435.0 1597,435.0"/>
<path d="M371,482.8 383,482.8 395,482.8 407,482.8 419,482.8 431,482.8 443,482.7 455,482.7 467,482.7 479,482.7 491,482.7 503,482.6 515,482.6 527,482.5 539,482.5 551,482.5 563,482.4 575,482.4 587,482.3 599,482.2 611,482.2 623,482.1 635,482.0 647,482.0 659,481.9 671,481.8 683,481.7 695,481.6 707,481.2 719,480.8 731,480.3 743,479.8 755,479.3 767,478.8 779,478.5 791,478.3 803,478.1 815,477.9 827,477.8 839,477.6 851,477.5 863,477.3 875,477.2 887,477.1 899,477.0 911,476.8 923,476.7 935,476.6 947,476.5 959,476.3 971,476.2 983,476.0 995,475.9 1007,475.7 1019,475.5 1031,475.3 1043,475.1 1055,474.9 1067,474.6 1079,474.4 1091,474.2 1103,474.0 1115,473.8 1127,473.6 1139,473.4 1151,473.2 1163,473.0 1175,472.9 1187,472.7 1199,472.6 1211,472.5 1223,472.3 1235,472.2 1247,472.1 1259,472.0 1271,471.9 1283,471.8 1295,471.7 1307,471.6 1319,471.5 1331,471.4 1343,471.3 1355,471.2 1367,471.1 1379,471.1 1391,471.0 1403,471.0 1415,471.0 1427,470.9 1439,470.9 1451,470.8 1463,470.8 1475,470.8 1487,470.7 1499,470.7 1511,470.7 1523,470.7 1535,470.7 1547,470.6 1559,470.6 1571,470.6 1583,470.6 1595,470.6 1597,470.6"/>
<path d="M371,501.0 383,501.5 395,502.0 407,502.5 419,503.0 431,503.5 443,504.0 455,504.5 467,505.1 479,505.6 491,506.2 503,506.7 515,507.3 527,507.9 539,508.4 551,509.0 563,509.6 575,510.2 587,510.8 599,511.4 611,512.0 623,512.6 635,513.2 647,513.8 659,514.4 671,515.1 683,515.7 695,516.3 707,517.1 719,517.8 731,518.5 743,519.3 755,520.0 767,520.6 779,521.2 791,521.6 803,522.1 815,522.6 827,523.0 839,523.4 851,523.8 863,524.2 875,524.6 887,524.9 899,525.3 911,525.6 923,526.0 935,526.3 947,526.6 959,526.9 971,527.2 983,527.5 995,527.7 1007,528.0 1019,528.3 1031,528.6 1043,528.9 1055,529.2 1067,529.4 1079,529.7 1091,529.9 1103,530.2 1115,530.4 1127,530.6 1139,530.8 1151,531.0 1163,531.1 1175,531.3 1187,531.4 1199,531.5 1211,531.5 1223,531.6 1235,531.7 1247,531.8 1259,531.8 1271,531.9 1283,531.9 1295,532.0 1307,532.0 1319,532.1 1331,532.1 1343,532.2 1355,532.2 1367,532.2 1379,532.3 1391,532.3 1403,532.3 1415,532.3 1427,532.3 1439,532.4 1451,532.4 1463,532.4 1475,532.4 1487,532.4 1499,532.4 1511,532.5 1523,532.5 1535,532.5 1547,532.5 1559,532.5 1571,532.5 1583,532.5 1595,532.5 1597,532.5"/>
</g>
<g fill="none" stroke-width="3.4" stroke-linejoin="round" stroke-linecap="round">
<path d="M371,332.5 373,333.2 375,332.6 377,331.9 379,333.0 381,332.4 383,334.2 385,336.1 387,332.8 389,332.4 391,334.1 393,333.6 395,333.0 397,331.0 399,332.4 401,333.4 403,329.7 405,331.0 407,328.4 409,329.2 411,328.1 413,330.6 415,328.6 417,331.5 419,331.5 421,331.1 423,327.3 425,330.9 427,331.9 429,332.4 431,329.8 433,331.9 435,331.4 437,332.0 439,335.5 441,332.7 443,334.3 445,336.2 447,334.2 449,336.6 451,338.6 453,340.1 455,338.6 457,341.5 459,344.3 461,340.0 463,344.8 465,344.2 467,344.7 469,351.0 471,350.7 473,348.2 475,350.7 477,351.9 479,350.9 481,352.7 483,352.0 485,353.9 487,355.9 489,353.0 491,355.1 493,354.5 495,355.9 497,354.2 499,355.6 501,356.7 503,359.0 505,359.0 507,354.4 509,354.9 511,356.9 513,352.0 515,354.2 517,355.6 519,358.6 521,358.4 523,357.4 525,357.1 527,357.0 529,359.7 531,356.1 533,355.5 535,355.6 537,353.8 539,352.7 541,350.2 543,350.9 545,349.0 547,350.6 549,349.5 551,349.2 553,351.3 555,350.4 557,353.2 559,349.8 561,349.2 563,344.4 565,345.6 567,341.6 569,340.5 571,343.0 573,341.5 575,342.8 577,345.9 579,340.2 581,340.2 583,341.1 585,341.2 587,339.5 589,337.8 591,337.7 593,335.8 595,331.5 597,331.5 599,330.3 601,327.3 603,328.3 605,325.3 607,327.2 609,325.6 611,326.1 613,325.5 615,326.9 617,324.3 619,327.1 621,331.6 623,329.4 625,336.4 627,334.0 629,338.0 631,332.7 633,332.8 635,329.1 637,323.7 639,325.7 641,323.3 643,318.0 645,314.9 647,313.2 649,314.7 651,321.1 653,321.2 655,324.9 657,325.3 659,327.1 661,327.6 663,333.5 665,332.7 667,334.6 669,333.0 671,331.8 673,332.4 675,332.0 677,332.4 679,331.2 681,330.7 683,328.3 685,328.6 687,334.8 689,332.9 691,334.2 693,338.6 695,342.4 697,336.9 699,338.5 701,337.1 703,334.8 705,338.7 707,337.1 709,337.0 711,334.6 713,335.0 715,331.6 717,330.6 719,328.5 721,329.2 723,334.4 725,332.1 727,335.0 729,335.9 731,336.7 733,337.3 735,339.5 737,338.1 739,338.6 741,339.2 743,341.4 745,340.8 747,340.5 749,339.4 751,338.7 753,343.3 755,344.1 757,342.7 759,343.6 761,343.7 763,343.4 765,343.3 767,337.4 769,337.3 771,330.6 773,333.7 775,332.5 777,334.7 779,337.9 781,338.7 783,334.4 785,332.9 787,336.7 789,332.8 791,333.6 793,334.1 795,328.9 797,327.6 799,331.1 801,330.3 803,329.9 805,331.0 807,330.0 809,330.1 811,334.4 813,335.0 815,334.2 817,338.2 819,337.5 821,338.6 823,338.1 825,341.5 827,343.9 829,348.1 831,353.9 833,354.0 835,356.5 837,357.0 839,361.4 841,358.1 843,364.5 845,363.3 847,363.9 849,361.9 851,364.1 853,366.9 855,366.4 857,367.7 859,367.3 861,369.4 863,367.0 865,363.0 867,368.0 869,368.4 871,368.9 873,376.3 875,382.3 877,381.6 879,381.0 881,382.9 883,386.4 885,384.0 887,383.0 889,382.0 891,379.4 893,376.0 895,370.9 897,365.6 899,358.6 901,358.4 903,355.5 905,357.6 907,352.9 909,355.5 911,356.3 913,354.6 915,360.4 917,359.7 919,356.2 921,358.1 923,356.6 925,350.3 927,354.0 929,351.3 931,348.3 933,343.2 935,352.7 937,360.6 939,368.9 941,373.5 943,374.5 945,376.3 947,371.5 949,367.7 951,361.3 953,365.0 955,363.1 957,362.0 959,360.7 961,358.8 963,358.0 965,356.3 967,356.7 969,357.6 971,360.4 973,360.0 975,360.5 977,361.2 979,361.7 981,365.2 983,362.9 985,361.8 987,362.1 989,361.8 991,364.5 993,365.5 995,361.7 997,360.4 999,359.2 1001,358.8 1003,354.9 1005,356.3 1007,350.8 1009,349.2 1011,342.0 1013,344.3 1015,348.4 1017,347.1 1019,344.1 1021,342.9 1023,343.4 1025,344.4 1027,349.5 1029,354.1 1031,351.7 1033,353.2 1035,353.2 1037,357.5 1039,356.9 1041,359.1 1043,362.5 1045,356.7 1047,357.9 1049,356.2 1051,351.2 1053,348.9 1055,353.3 1057,351.7 1059,353.0 1061,352.2 1063,353.6 1065,355.1 1067,353.4 1069,350.7 1071,351.4 1073,353.9 1075,358.1 1077,360.0 1079,361.1 1081,359.3 1083,356.4 1085,354.9 1087,357.7 1089,359.6 1091,363.0 1093,368.8 1095,370.6 1097,372.9 1099,368.8 1101,371.1 1103,364.5 1105,362.1 1107,362.8 1109,360.5 1111,356.9 1113,352.1 1115,352.9 1117,351.0 1119,351.8 1121,354.4 1123,352.2 1125,351.7 1127,350.6 1129,352.1 1131,351.5 1133,351.0 1135,355.2 1137,354.7 1139,358.0 1141,357.3 1143,356.8 1145,356.9 1147,361.2 1149,362.4 1151,363.7 1153,365.6 1155,365.8 1157,367.6 1159,373.5 1161,373.9 1163,373.5 1165,372.1 1167,364.8 1169,364.4 1171,364.0 1173,362.4 1175,363.9 1177,369.2 1179,370.6 1181,370.6 1183,372.9 1185,377.8 1187,378.6 1189,373.7 1191,378.2 1193,376.0 1195,375.3 1197,370.3 1199,368.5 1201,364.8 1203,368.5 1205,361.4 1207,361.7 1209,355.2 1211,357.3 1213,358.2 1215,364.3 1217,367.2 1219,363.9 1221,368.3 1223,368.0 1225,366.7 1227,368.6 1229,368.0 1231,366.4 1233,363.2 1235,360.3 1237,358.5 1239,354.6 1241,352.0 1243,352.5 1245,352.5 1247,352.7 1249,359.6 1251,363.3 1253,368.0 1255,376.5 1257,371.1 1259,371.6 1261,364.7 1263,366.3 1265,366.2 1267,366.2 1269,369.0 1271,367.7 1273,369.0 1275,367.9 1277,368.2 1279,372.0 1281,374.4 1283,378.0 1285,377.0 1287,380.6 1289,379.7 1291,385.5 1293,384.4 1295,384.9 1297,392.7 1299,399.5 1301,399.7 1303,405.1 1305,410.3 1307,414.3 1309,422.1 1311,426.0 1313,432.0 1315,440.2 1317,443.1 1319,449.1 1321,450.6 1323,454.2 1325,450.3 1327,452.2 1329,444.0 1331,441.2 1333,439.5 1335,438.6 1337,437.2 1339,439.1 1341,433.1 1343,432.7 1345,434.2 1347,434.1 1349,438.1 1351,436.2 1353,431.1 1355,428.4 1357,428.1 1359,429.1 1361,424.6 1363,433.0 1365,433.0 1367,430.8 1369,421.3 1371,416.9 1373,411.2 1375,408.9 1377,409.6 1379,405.4 1381,400.1 1383,396.3 1385,391.6 1387,391.2 1389,388.8 1391,386.0 1393,383.3 1395,378.8 1397,379.7 1399,379.7 1401,382.0 1403,383.0 1405,379.6 1407,378.2 1409,378.9 1411,377.5 1413,376.8 1415,378.0 1417,376.8 1419,380.1 1421,379.4 1423,380.5 1425,380.2 1427,379.8 1429,379.9 1431,382.9 1433,387.0 1435,392.9 1437,395.5 1439,391.2 1441,391.7 1443,388.9 1445,396.0 1447,402.5 1449,404.0 1451,404.8 1453,402.0 1455,398.5 1457,395.2 1459,394.7 1461,393.0 1463,393.5 1465,397.1 1467,402.2 1469,404.0 1471,410.4 1473,410.7 1475,410.8 1477,410.8 1479,412.9 1481,413.8 1483,422.1 1485,423.5 1487,418.7 1489,413.9 1491,410.6 1493,410.9 1495,412.0 1497,411.2 1499,410.5 1501,407.7 1503,411.6 1505,413.0 1507,413.2 1509,412.2 1511,407.8 1513,409.5 1515,405.0 1517,399.4 1519,403.6 1521,399.8 1523,399.5 1525,399.9 1527,402.5 1529,397.7 1531,395.4 1533,394.5 1535,390.9 1537,384.8 1539,381.5 1541,376.8 1543,374.8 1545,374.0 1547,372.5 1549,370.5 1551,370.5 1553,367.0 1555,371.5 1557,376.2 1559,378.0 1561,373.5 1563,367.0 1565,360.6 1567,357.7 1569,351.3 1571,346.2 1573,346.0 1575,346.5 1577,348.7 1579,346.8 1581,350.7 1583,349.7 1585,348.7 1587,345.7 1589,348.4 1591,350.0 1593,348.6 1595,346.5 1597,347.0" stroke="#efb08c"/>
<path d="M371,350.0 373,345.5 375,350.3 377,351.8 379,352.4 381,354.5 383,353.6 385,352.0 387,351.9 389,352.6 391,350.3 393,351.0 395,352.5 397,354.2 399,350.7 401,351.1 403,351.8 405,354.0 407,351.9 409,354.7 411,350.8 413,352.4 415,352.7 417,354.0 419,354.1 421,349.4 423,350.0 425,351.8 427,349.7 429,347.9 431,351.9 433,350.7 435,350.4 437,348.5 439,350.9 441,348.5 443,350.5 445,346.8 447,346.7 449,348.6 451,347.7 453,350.6 455,350.4 457,349.2 459,351.7 461,351.8 463,354.8 465,352.9 467,352.7 469,354.9 471,356.1 473,355.1 475,351.0 477,350.4 479,351.8 481,348.1 483,347.0 485,349.8 487,351.4 489,350.2 491,349.9 493,351.0 495,355.2 497,353.4 499,354.9 501,355.7 503,356.6 505,355.2 507,356.5 509,352.2 511,351.1 513,350.1 515,355.0 517,354.3 519,354.7 521,357.3 523,359.4 525,362.9 527,357.9 529,357.7 531,357.7 533,361.7 535,358.0 537,355.2 539,355.6 541,356.8 543,352.0 545,350.8 547,352.5 549,350.5 551,350.0 553,347.3 555,350.7 557,349.6 559,346.9 561,346.4 563,341.0 565,344.8 567,342.6 569,342.8 571,342.9 573,341.3 575,339.2 577,342.8 579,341.1 581,341.9 583,341.2 585,341.3 587,337.6 589,343.2 591,341.2 593,342.3 595,343.4 597,340.3 599,337.5 601,339.4 603,339.1 605,340.6 607,341.8 609,337.8 611,341.4 613,337.8 615,340.5 617,341.8 619,343.5 621,345.9 623,347.1 625,349.0 627,349.1 629,352.3 631,354.2 633,353.2 635,350.8 637,348.5 639,345.3 641,348.3 643,345.3 645,344.7 647,343.8 649,343.8 651,342.1 653,341.9 655,339.4 657,339.8 659,343.6 661,339.1 663,338.3 665,339.2 667,339.0 669,336.2 671,338.9 673,342.1 675,342.2 677,339.9 679,340.3 681,334.5 683,333.8 685,330.8 687,335.7 689,331.4 691,335.0 693,336.0 695,338.3 697,338.6 699,340.2 701,334.9 703,338.2 705,335.6 707,334.2 709,335.1 711,330.9 713,327.3 715,328.6 717,325.0 719,326.0 721,328.5 723,329.1 725,332.1 727,329.8 729,328.2 731,330.3 733,330.7 735,330.9 737,332.2 739,328.8 741,324.9 743,327.9 745,325.4 747,325.0 749,323.4 751,323.2 753,321.3 755,322.7 757,320.7 759,320.0 761,320.2 763,318.0 765,321.2 767,322.1 769,324.1 771,322.8 773,329.3 775,328.2 777,325.5 779,324.2 781,326.2 783,326.1 785,324.6 787,324.9 789,322.7 791,323.7 793,320.5 795,320.7 797,321.4 799,323.2 801,316.1 803,317.0 805,316.9 807,320.1 809,316.8 811,317.5 813,317.9 815,315.8 817,316.9 819,318.7 821,316.9 823,318.2 825,319.8 827,320.5 829,319.8 831,317.4 833,320.3 835,323.2 837,323.6 839,322.7 841,320.9 843,323.1 845,320.7 847,321.6 849,324.1 851,329.8 853,328.8 855,331.0 857,328.9 859,331.8 861,329.7 863,330.9 865,335.9 867,334.2 869,333.3 871,335.2 873,337.2 875,340.1 877,338.5 879,337.8 881,341.7 883,343.6 885,345.2 887,345.9 889,342.9 891,344.0 893,342.6 895,347.9 897,351.9 899,351.9 901,353.2 903,355.3 905,357.5 907,352.3 909,353.1 911,354.2 913,355.7 915,354.6 917,356.8 919,356.7 921,358.3 923,358.8 925,358.1 927,355.2 929,351.9 931,345.4 933,344.6 935,344.1 937,342.3 939,345.5 941,344.5 943,349.3 945,352.4 947,352.9 949,348.9 951,349.1 953,346.6 955,345.2 957,345.5 959,338.6 961,340.5 963,338.7 965,342.3 967,341.4 969,339.6 971,339.3 973,338.2 975,335.1 977,336.7 979,335.9 981,334.1 983,340.1 985,340.7 987,340.6 989,341.4 991,344.7 993,344.7 995,346.8 997,348.8 999,352.2 1001,349.0 1003,353.7 1005,350.6 1007,347.8 1009,349.8 1011,345.5 1013,343.4 1015,346.0 1017,349.1 1019,350.0 1021,347.3 1023,348.7 1025,349.2 1027,349.0 1029,352.8 1031,354.2 1033,353.7 1035,353.1 1037,353.4 1039,353.3 1041,352.9 1043,353.7 1045,356.9 1047,353.3 1049,352.3 1051,350.8 1053,350.0 1055,354.5 1057,350.8 1059,353.9 1061,351.2 1063,354.0 1065,352.9 1067,345.2 1069,345.4 1071,346.7 1073,345.7 1075,344.5 1077,342.1 1079,341.8 1081,340.7 1083,338.0 1085,338.4 1087,331.8 1089,335.6 1091,331.6 1093,336.9 1095,338.4 1097,339.7 1099,338.3 1101,332.7 1103,330.1 1105,327.0 1107,327.7 1109,328.2 1111,330.4 1113,329.8 1115,330.4 1117,327.2 1119,325.6 1121,326.0 1123,326.8 1125,324.4 1127,327.3 1129,330.1 1131,333.8 1133,336.2 1135,343.4 1137,341.0 1139,342.5 1141,340.3 1143,341.5 1145,340.4 1147,337.9 1149,340.4 1151,335.6 1153,336.0 1155,331.4 1157,325.5 1159,322.7 1161,320.8 1163,316.8 1165,312.8 1167,308.2 1169,301.9 1171,301.1 1173,294.2 1175,297.0 1177,293.6 1179,294.0 1181,297.2 1183,300.5 1185,299.6 1187,301.0 1189,303.9 1191,303.5 1193,306.7 1195,312.4 1197,308.6 1199,309.1 1201,303.1 1203,303.5 1205,302.1 1207,302.2 1209,302.9 1211,302.9 1213,296.8 1215,293.2 1217,285.3 1219,282.0 1221,276.6 1223,276.4 1225,278.6 1227,285.4 1229,282.8 1231,285.5 1233,283.5 1235,277.4 1237,273.8 1239,271.8 1241,269.1 1243,272.9 1245,278.1 1247,277.7 1249,279.1 1251,284.7 1253,289.6 1255,295.4 1257,296.0 1259,300.7 1261,307.9 1263,310.4 1265,309.8 1267,310.3 1269,312.7 1271,317.3 1273,317.9 1275,321.1 1277,316.8 1279,316.8 1281,318.8 1283,318.8 1285,316.0 1287,315.0 1289,310.9 1291,309.4 1293,317.1 1295,326.5 1297,317.5 1299,316.3 1301,305.1 1303,304.6 1305,303.3 1307,301.8 1309,301.9 1311,301.6 1313,300.3 1315,302.4 1317,297.1 1319,300.9 1321,299.9 1323,301.5 1325,302.9 1327,304.7 1329,308.9 1331,315.1 1333,316.9 1335,313.1 1337,315.8 1339,314.2 1341,305.8 1343,307.3 1345,314.0 1347,314.1 1349,316.1 1351,318.3 1353,319.4 1355,321.6 1357,322.7 1359,326.5 1361,326.2 1363,325.4 1365,323.3 1367,324.4 1369,322.2 1371,322.6 1373,323.9 1375,321.9 1377,321.4 1379,320.3 1381,319.0 1383,319.0 1385,319.3 1387,321.8 1389,315.7 1391,315.3 1393,308.6 1395,302.7 1397,300.3 1399,298.0 1401,297.4 1403,294.0 1405,294.7 1407,288.8 1409,283.5 1411,286.8 1413,288.6 1415,295.9 1417,298.8 1419,296.1 1421,290.7 1423,289.7 1425,292.4 1427,288.8 1429,287.1 1431,287.8 1433,289.0 1435,286.9 1437,287.4 1439,290.2 1441,293.1 1443,292.8 1445,291.4 1447,292.6 1449,291.3 1451,298.9 1453,305.3 1455,314.8 1457,311.9 1459,315.6 1461,318.0 1463,321.4 1465,320.9 1467,316.6 1469,314.4 1471,311.4 1473,311.0 1475,313.1 1477,311.9 1479,309.7 1481,310.4 1483,310.7 1485,311.5 1487,309.6 1489,310.2 1491,307.5 1493,311.7 1495,320.4 1497,317.9 1499,325.1 1501,329.1 1503,330.8 1505,332.7 1507,333.2 1509,330.7 1511,327.9 1513,324.8 1515,329.7 1517,330.5 1519,333.1 1521,334.8 1523,334.3 1525,333.5 1527,329.9 1529,331.1 1531,330.5 1533,329.6 1535,329.3 1537,325.9 1539,325.1 1541,325.8 1543,320.7 1545,322.1 1547,320.8 1549,325.1 1551,326.8 1553,332.3 1555,337.7 1557,343.2 1559,347.3 1561,349.4 1563,352.5 1565,354.8 1567,360.1 1569,359.0 1571,360.4 1573,362.4 1575,359.3 1577,358.2 1579,360.7 1581,361.0 1583,365.5 1585,373.9 1587,376.1 1589,377.2 1591,371.8 1593,363.6 1595,360.9 1597,361.5" stroke="#ea7050"/>
<path d="M371,365.8 373,366.4 375,367.2 377,368.3 379,368.5 381,368.7 383,368.9 385,367.5 387,363.5 389,365.7 391,366.3 393,364.9 395,366.9 397,364.5 399,363.5 401,367.7 403,366.5 405,365.9 407,367.2 409,367.6 411,366.5 413,361.9 415,365.1 417,365.6 419,364.8 421,367.0 423,367.6 425,363.1 427,360.5 429,365.8 431,361.4 433,359.9 435,362.2 437,362.5 439,361.0 441,363.9 443,362.2 445,361.8 447,364.1 449,365.5 451,363.5 453,365.5 455,365.1 457,370.4 459,364.5 461,367.8 463,365.1 465,364.7 467,365.8 469,365.9 471,366.2 473,364.8 475,363.6 477,364.0 479,366.2 481,366.7 483,368.3 485,366.8 487,368.1 489,369.0 491,366.9 493,365.0 495,366.8 497,367.7 499,373.8 501,370.1 503,374.2 505,373.6 507,376.1 509,376.3 511,375.9 513,377.2 515,376.9 517,376.4 519,374.5 521,373.3 523,372.8 525,363.8 527,366.0 529,362.9 531,363.7 533,364.2 535,362.4 537,363.5 539,359.2 541,363.0 543,358.8 545,359.6 547,357.6 549,352.5 551,355.9 553,357.8 555,360.4 557,358.8 559,360.7 561,359.9 563,365.7 565,366.9 567,364.3 569,364.4 571,361.1 573,363.1 575,364.0 577,358.9 579,360.8 581,360.6 583,358.1 585,361.6 587,356.8 589,358.2 591,358.6 593,360.5 595,361.3 597,362.9 599,362.2 601,362.4 603,365.7 605,365.5 607,364.2 609,364.0 611,365.1 613,364.1 615,367.3 617,369.1 619,374.2 621,376.4 623,380.9 625,374.4 627,375.2 629,377.3 631,374.8 633,374.4 635,377.9 637,374.4 639,372.2 641,370.3 643,371.4 645,369.7 647,365.2 649,364.4 651,365.6 653,364.3 655,360.9 657,361.7 659,361.4 661,358.3 663,361.6 665,363.7 667,359.5 669,354.4 671,355.0 673,354.3 675,354.6 677,347.2 679,354.3 681,346.9 683,349.4 685,348.8 687,349.1 689,348.3 691,346.8 693,348.2 695,343.1 697,337.1 699,344.5 701,340.3 703,341.7 705,336.5 707,340.2 709,340.1 711,339.7 713,336.7 715,333.5 717,334.1 719,329.5 721,329.2 723,332.1 725,330.7 727,332.5 729,332.6 731,335.7 733,334.3 735,331.6 737,333.2 739,329.4 741,329.6 743,330.1 745,324.2 747,323.6 749,320.3 751,321.9 753,323.6 755,318.7 757,323.4 759,324.4 761,327.0 763,327.2 765,330.7 767,331.2 769,326.8 771,323.3 773,324.3 775,321.1 777,323.5 779,323.0 781,323.3 783,323.8 785,321.3 787,321.2 789,318.0 791,318.7 793,315.6 795,316.9 797,314.7 799,315.6 801,316.8 803,315.6 805,318.6 807,320.3 809,324.7 811,327.9 813,327.9 815,327.4 817,329.0 819,322.4 821,326.1 823,321.3 825,316.7 827,325.0 829,322.9 831,319.0 833,321.5 835,321.3 837,323.4 839,322.2 841,325.0 843,326.5 845,324.5 847,324.5 849,322.0 851,326.3 853,321.4 855,323.4 857,321.2 859,323.9 861,329.7 863,327.8 865,332.6 867,333.8 869,331.8 871,330.2 873,327.1 875,325.2 877,325.3 879,324.6 881,323.6 883,324.1 885,327.2 887,328.1 889,331.6 891,335.9 893,334.4 895,330.7 897,328.1 899,324.7 901,323.6 903,323.6 905,324.8 907,325.0 909,326.9 911,324.5 913,324.4 915,322.3 917,326.8 919,324.9 921,327.0 923,325.4 925,328.2 927,327.0 929,330.4 931,338.5 933,339.6 935,345.7 937,348.6 939,350.1 941,356.1 943,360.5 945,359.7 947,363.6 949,360.9 951,360.7 953,362.3 955,365.6 957,368.0 959,366.5 961,361.2 963,364.4 965,359.8 967,355.9 969,354.3 971,358.7 973,363.7 975,367.4 977,361.8 979,364.0 981,365.8 983,355.3 985,358.1 987,354.8 989,352.5 991,354.6 993,349.6 995,350.5 997,351.3 999,349.0 1001,351.3 1003,354.9 1005,356.6 1007,362.8 1009,361.3 1011,367.2 1013,362.4 1015,362.4 1017,357.8 1019,350.1 1021,354.0 1023,354.3 1025,357.4 1027,363.4 1029,363.5 1031,368.4 1033,377.5 1035,371.4 1037,370.1 1039,364.2 1041,359.8 1043,360.6 1045,362.1 1047,366.3 1049,369.4 1051,371.5 1053,370.7 1055,369.4 1057,373.2 1059,368.5 1061,365.2 1063,364.1 1065,363.5 1067,361.3 1069,361.1 1071,361.4 1073,363.5 1075,361.1 1077,362.4 1079,364.0 1081,357.0 1083,353.7 1085,350.6 1087,345.1 1089,339.4 1091,338.4 1093,331.2 1095,327.4 1097,327.3 1099,327.7 1101,329.5 1103,335.1 1105,337.4 1107,336.9 1109,341.7 1111,342.0 1113,342.2 1115,341.6 1117,345.2 1119,347.2 1121,346.2 1123,340.0 1125,339.1 1127,337.4 1129,340.6 1131,346.2 1133,347.3 1135,352.1 1137,358.2 1139,358.3 1141,360.5 1143,363.4 1145,366.8 1147,359.8 1149,360.9 1151,360.6 1153,361.8 1155,363.5 1157,365.0 1159,368.5 1161,367.9 1163,368.2 1165,365.7 1167,365.7 1169,369.2 1171,373.2 1173,371.6 1175,370.6 1177,374.9 1179,376.7 1181,379.4 1183,378.4 1185,373.4 1187,372.5 1189,373.6 1191,369.6 1193,372.0 1195,372.4 1197,375.3 1199,375.7 1201,377.4 1203,370.2 1205,367.1 1207,370.6 1209,374.9 1211,379.9 1213,380.7 1215,384.4 1217,381.8 1219,384.4 1221,383.0 1223,384.0 1225,378.5 1227,378.8 1229,379.6 1231,382.8 1233,383.0 1235,390.6 1237,390.8 1239,393.1 1241,395.6 1243,397.6 1245,400.7 1247,399.6 1249,400.7 1251,403.3 1253,403.8 1255,403.7 1257,403.7 1259,401.3 1261,400.6 1263,399.4 1265,391.6 1267,393.1 1269,395.7 1271,397.2 1273,403.0 1275,395.9 1277,392.1 1279,389.5 1281,390.3 1283,392.4 1285,394.1 1287,393.2 1289,387.4 1291,390.2 1293,385.6 1295,385.6 1297,382.4 1299,377.6 1301,373.4 1303,369.9 1305,369.1 1307,369.1 1309,368.1 1311,364.4 1313,364.0 1315,363.3 1317,365.1 1319,360.4 1321,366.1 1323,364.6 1325,365.6 1327,369.0 1329,372.2 1331,374.5 1333,379.2 1335,381.2 1337,386.2 1339,387.6 1341,386.6 1343,390.7 1345,390.9 1347,393.1 1349,390.2 1351,387.3 1353,385.1 1355,377.6 1357,376.8 1359,372.3 1361,368.1 1363,365.2 1365,370.2 1367,372.8 1369,367.0 1371,365.1 1373,357.5 1375,367.2 1377,369.4 1379,374.0 1381,365.4 1383,365.7 1385,360.2 1387,361.3 1389,359.0 1391,360.2 1393,367.0 1395,364.5 1397,367.3 1399,369.4 1401,368.7 1403,373.0 1405,374.4 1407,371.0 1409,370.3 1411,376.2 1413,377.1 1415,377.4 1417,378.5 1419,375.5 1421,377.3 1423,373.9 1425,370.7 1427,371.7 1429,369.9 1431,376.7 1433,374.6 1435,373.0 1437,370.2 1439,366.7 1441,360.1 1443,356.5 1445,358.6 1447,360.1 1449,359.7 1451,361.9 1453,367.6 1455,369.3 1457,370.4 1459,369.5 1461,362.5 1463,357.9 1465,356.9 1467,358.0 1469,356.6 1471,350.7 1473,352.0 1475,353.5 1477,353.4 1479,355.1 1481,353.0 1483,353.0 1485,356.8 1487,357.2 1489,359.9 1491,369.8 1493,371.3 1495,369.4 1497,362.6 1499,362.0 1501,363.3 1503,362.7 1505,360.4 1507,352.3 1509,354.0 1511,350.9 1513,353.7 1515,359.2 1517,356.5 1519,348.6 1521,348.9 1523,340.8 1525,341.2 1527,339.6 1529,340.1 1531,335.2 1533,335.8 1535,330.9 1537,332.1 1539,326.9 1541,325.6 1543,327.4 1545,322.7 1547,321.9 1549,329.6 1551,330.4 1553,332.1 1555,337.4 1557,336.8 1559,342.6 1561,340.2 1563,334.8 1565,332.2 1567,331.5 1569,335.2 1571,337.4 1573,344.0 1575,337.5 1577,338.3 1579,336.3 1581,334.5 1583,335.0 1585,331.9 1587,334.5 1589,332.7 1591,332.1 1593,331.2 1595,331.7 1597,334.0" stroke="#d62f40"/>
<path d="M371,469.2 373,469.1 375,470.5 377,470.1 379,470.6 381,467.1 383,465.5 385,468.7 387,467.2 389,468.5 391,466.5 393,468.4 395,467.7 397,467.3 399,466.9 401,466.6 403,466.2 405,466.7 407,468.6 409,466.6 411,471.0 413,468.4 415,470.8 417,469.6 419,469.6 421,473.5 423,469.5 425,467.8 427,468.8 429,469.5 431,473.7 433,470.4 435,471.6 437,468.3 439,470.6 441,471.1 443,473.1 445,468.8 447,471.0 449,470.5 451,468.3 453,468.9 455,466.9 457,461.8 459,466.2 461,466.4 463,465.1 465,463.9 467,469.0 469,467.3 471,468.8 473,469.7 475,466.7 477,469.3 479,467.3 481,467.0 483,466.3 485,465.8 487,468.7 489,468.0 491,468.6 493,469.4 495,471.4 497,470.0 499,469.3 501,468.7 503,466.5 505,465.9 507,463.9 509,468.1 511,466.7 513,465.0 515,463.9 517,468.1 519,465.4 521,465.1 523,466.2 525,466.6 527,468.9 529,466.1 531,468.5 533,462.3 535,463.9 537,459.9 539,464.4 541,460.4 543,460.8 545,462.7 547,463.4 549,459.6 551,461.0 553,460.0 555,463.6 557,464.1 559,464.7 561,464.3 563,464.2 565,462.9 567,464.4 569,465.4 571,459.1 573,461.9 575,461.1 577,462.3 579,459.6 581,460.7 583,460.0 585,464.3 587,464.7 589,465.7 591,468.2 593,468.8 595,468.2 597,473.5 599,474.7 601,474.0 603,474.4 605,473.3 607,468.2 609,468.9 611,473.0 613,473.0 615,469.5 617,466.5 619,465.1 621,463.0 623,460.0 625,462.2 627,459.4 629,459.0 631,461.7 633,457.8 635,457.6 637,457.5 639,457.8 641,457.0 643,458.9 645,458.6 647,464.2 649,463.5 651,461.7 653,463.0 655,462.6 657,460.6 659,462.4 661,462.1 663,459.4 665,460.6 667,460.4 669,464.7 671,466.3 673,472.2 675,469.0 677,466.4 679,468.3 681,469.2 683,466.3 685,466.5 687,468.6 689,471.1 691,471.5 693,471.5 695,471.5 697,466.4 699,463.6 701,460.5 703,461.1 705,463.1 707,459.2 709,463.9 711,467.2 713,467.4 715,467.0 717,463.2 719,465.9 721,466.9 723,469.5 725,470.2 727,475.0 729,478.8 731,480.5 733,478.5 735,479.7 737,476.2 739,476.6 741,475.0 743,472.2 745,465.4 747,469.6 749,470.2 751,466.0 753,463.6 755,463.3 757,458.8 759,455.6 761,460.7 763,459.3 765,461.3 767,468.9 769,468.7 771,466.9 773,464.8 775,459.3 777,457.2 779,462.3 781,463.9 783,467.2 785,471.6 787,471.1 789,470.7 791,468.8 793,467.3 795,467.5 797,465.5 799,469.2 801,464.9 803,465.5 805,462.4 807,463.0 809,465.1 811,469.2 813,468.1 815,471.7 817,468.1 819,464.5 821,460.7 823,459.5 825,453.0 827,452.9 829,450.7 831,447.6 833,444.6 835,441.5 837,445.4 839,443.2 841,451.5 843,453.7 845,456.1 847,452.4 849,453.8 851,454.4 853,451.1 855,453.4 857,457.0 859,457.4 861,461.8 863,459.0 865,460.4 867,456.7 869,461.8 871,457.8 873,457.4 875,463.0 877,465.1 879,470.7 881,469.0 883,471.7 885,478.1 887,484.2 889,480.2 891,480.9 893,478.9 895,480.4 897,483.8 899,486.6 901,486.2 903,489.5 905,484.7 907,488.3 909,485.1 911,480.6 913,476.7 915,476.4 917,476.4 919,475.8 921,474.1 923,474.3 925,470.8 927,475.5 929,475.8 931,483.1 933,484.0 935,484.2 937,488.1 939,487.3 941,480.3 943,484.1 945,480.5 947,483.3 949,484.2 951,477.6 953,478.9 955,479.5 957,481.7 959,481.5 961,479.9 963,473.3 965,477.1 967,472.3 969,473.8 971,473.3 973,469.2 975,467.0 977,467.9 979,468.9 981,472.3 983,479.0 985,479.5 987,481.0 989,479.8 991,478.2 993,477.8 995,480.0 997,478.6 999,480.0 1001,480.5 1003,483.7 1005,478.5 1007,486.7 1009,486.9 1011,489.7 1013,491.4 1015,486.4 1017,485.5 1019,481.5 1021,480.0 1023,476.5 1025,482.9 1027,483.1 1029,488.2 1031,493.4 1033,496.7 1035,498.1 1037,501.1 1039,503.4 1041,504.0 1043,502.7 1045,505.5 1047,505.9 1049,512.2 1051,519.6 1053,519.1 1055,517.5 1057,515.2 1059,515.6 1061,514.5 1063,517.4 1065,513.6 1067,513.7 1069,511.2 1071,511.0 1073,511.8 1075,506.8 1077,506.1 1079,505.3 1081,508.2 1083,505.0 1085,504.8 1087,504.7 1089,505.1 1091,508.7 1093,510.3 1095,501.1 1097,501.3 1099,497.0 1101,494.0 1103,497.0 1105,498.8 1107,499.7 1109,503.3 1111,493.3 1113,493.7 1115,490.2 1117,485.8 1119,487.6 1121,489.3 1123,488.7 1125,489.8 1127,490.9 1129,486.3 1131,491.7 1133,492.4 1135,489.7 1137,487.2 1139,480.6 1141,480.3 1143,476.6 1145,471.6 1147,469.9 1149,468.9 1151,472.1 1153,468.5 1155,469.4 1157,468.8 1159,471.8 1161,476.1 1163,484.9 1165,478.8 1167,478.2 1169,477.8 1171,480.3 1173,483.4 1175,483.1 1177,484.1 1179,488.2 1181,495.3 1183,496.5 1185,501.9 1187,503.3 1189,502.4 1191,505.0 1193,506.9 1195,510.0 1197,507.3 1199,510.1 1201,503.7 1203,499.2 1205,496.9 1207,493.4 1209,489.1 1211,485.0 1213,481.7 1215,480.5 1217,480.9 1219,478.3 1221,478.9 1223,471.9 1225,466.7 1227,462.4 1229,461.7 1231,463.4 1233,466.9 1235,455.5 1237,443.5 1239,443.0 1241,446.6 1243,453.4 1245,452.6 1247,453.1 1249,454.7 1251,453.2 1253,449.4 1255,446.9 1257,446.7 1259,449.7 1261,453.9 1263,452.0 1265,457.3 1267,449.8 1269,449.3 1271,452.9 1273,457.5 1275,464.3 1277,458.8 1279,452.1 1281,451.8 1283,450.7 1285,449.6 1287,453.6 1289,452.0 1291,455.5 1293,453.6 1295,453.0 1297,454.2 1299,453.7 1301,454.7 1303,453.3 1305,451.7 1307,454.2 1309,457.1 1311,467.3 1313,463.4 1315,466.6 1317,467.6 1319,467.8 1321,470.5 1323,474.6 1325,477.2 1327,476.0 1329,475.5 1331,474.4 1333,477.8 1335,476.8 1337,479.4 1339,478.3 1341,479.6 1343,478.2 1345,478.3 1347,477.9 1349,476.0 1351,473.9 1353,473.2 1355,476.8 1357,473.0 1359,474.4 1361,478.7 1363,479.4 1365,472.3 1367,464.5 1369,463.0 1371,460.9 1373,462.4 1375,462.5 1377,462.8 1379,465.7 1381,471.5 1383,471.6 1385,469.9 1387,467.6 1389,468.8 1391,473.4 1393,474.2 1395,476.0 1397,471.7 1399,469.7 1401,464.1 1403,461.0 1405,459.8 1407,454.5 1409,458.0 1411,457.4 1413,456.3 1415,451.0 1417,446.3 1419,440.6 1421,436.0 1423,431.9 1425,426.5 1427,430.7 1429,432.3 1431,440.3 1433,441.7 1435,442.8 1437,440.1 1439,439.1 1441,435.1 1443,433.3 1445,434.9 1447,438.5 1449,441.5 1451,448.3 1453,451.7 1455,453.4 1457,456.3 1459,458.3 1461,461.8 1463,461.2 1465,463.5 1467,463.8 1469,463.4 1471,468.9 1473,457.2 1475,454.8 1477,449.0 1479,440.2 1481,440.8 1483,440.9 1485,439.7 1487,437.9 1489,439.8 1491,436.8 1493,439.1 1495,439.7 1497,442.9 1499,440.3 1501,439.6 1503,438.6 1505,437.9 1507,438.3 1509,438.6 1511,439.3 1513,436.3 1515,431.9 1517,428.0 1519,427.6 1521,428.2 1523,421.8 1525,422.4 1527,422.0 1529,416.5 1531,422.4 1533,424.2 1535,431.0 1537,431.2 1539,433.0 1541,436.6 1543,438.9 1545,436.6 1547,436.5 1549,433.3 1551,434.6 1553,436.9 1555,439.7 1557,437.3 1559,431.5 1561,429.3 1563,433.0 1565,438.0 1567,440.7 1569,437.3 1571,436.6 1573,435.1 1575,437.4 1577,439.2 1579,439.6 1581,439.4 1583,444.9 1585,445.6 1587,452.1 1589,455.0 1591,451.7 1593,455.2 1595,455.0 1597,453.0" stroke="#a31555"/>
<path d="M371,482.5 373,485.7 375,480.6 377,484.4 379,483.5 381,483.5 383,484.5 385,481.7 387,482.0 389,481.6 391,481.7 393,482.8 395,480.5 397,481.2 399,483.8 401,482.2 403,482.6 405,478.3 407,479.7 409,479.6 411,480.2 413,479.3 415,482.3 417,481.1 419,481.6 421,482.1 423,483.7 425,481.8 427,484.6 429,483.5 431,483.1 433,483.0 435,483.9 437,484.6 439,484.5 441,483.4 443,484.2 445,482.8 447,484.7 449,482.2 451,478.2 453,483.6 455,481.0 457,479.9 459,482.6 461,482.4 463,488.6 465,484.9 467,480.4 469,483.0 471,480.5 473,483.8 475,478.3 477,475.8 479,479.3 481,477.9 483,476.9 485,473.0 487,476.7 489,480.0 491,475.1 493,481.6 495,479.8 497,484.6 499,481.1 501,479.9 503,481.9 505,481.8 507,480.8 509,484.0 511,482.8 513,479.6 515,484.0 517,477.9 519,476.8 521,479.1 523,476.6 525,477.7 527,479.3 529,479.4 531,480.6 533,482.5 535,480.0 537,482.6 539,483.7 541,481.8 543,483.8 545,480.9 547,483.9 549,485.8 551,487.9 553,488.5 555,488.9 557,485.3 559,485.7 561,482.2 563,478.9 565,479.8 567,477.3 569,474.1 571,477.3 573,475.1 575,475.3 577,474.8 579,472.1 581,471.4 583,471.2 585,473.7 587,473.8 589,473.7 591,479.8 593,479.9 595,482.3 597,484.8 599,485.5 601,489.2 603,484.2 605,480.5 607,486.9 609,486.2 611,487.1 613,481.8 615,487.8 617,486.8 619,486.0 621,485.5 623,486.0 625,482.3 627,483.2 629,479.7 631,479.6 633,483.4 635,484.9 637,484.5 639,489.3 641,489.8 643,490.2 645,493.7 647,490.8 649,487.3 651,486.6 653,490.7 655,484.7 657,487.3 659,488.9 661,491.3 663,490.5 665,494.5 667,493.7 669,493.4 671,489.4 673,486.6 675,488.0 677,486.0 679,483.9 681,482.8 683,485.1 685,485.2 687,487.3 689,484.7 691,487.9 693,487.1 695,484.5 697,485.8 699,484.6 701,482.9 703,483.3 705,479.3 707,479.0 709,477.2 711,474.4 713,472.3 715,464.7 717,462.6 719,464.1 721,463.0 723,464.5 725,460.8 727,457.1 729,460.4 731,459.6 733,460.5 735,469.4 737,467.0 739,469.2 741,470.4 743,473.1 745,470.5 747,472.1 749,469.2 751,470.5 753,477.2 755,479.2 757,475.6 759,473.1 761,471.0 763,469.4 765,474.2 767,473.6 769,473.4 771,472.4 773,472.6 775,470.9 777,473.3 779,472.0 781,476.3 783,480.1 785,476.4 787,477.4 789,476.6 791,474.2 793,471.1 795,467.6 797,471.6 799,469.2 801,470.2 803,471.2 805,467.7 807,467.4 809,471.5 811,469.7 813,471.9 815,471.5 817,468.9 819,465.2 821,463.1 823,460.5 825,460.3 827,460.1 829,458.5 831,458.3 833,458.9 835,462.5 837,463.0 839,465.9 841,467.1 843,463.3 845,462.2 847,455.7 849,461.8 851,462.5 853,462.6 855,459.8 857,461.2 859,457.2 861,460.0 863,463.4 865,463.1 867,461.8 869,463.8 871,460.1 873,463.5 875,464.2 877,465.2 879,466.7 881,463.6 883,465.5 885,457.0 887,458.2 889,449.7 891,448.6 893,440.8 895,435.7 897,438.3 899,439.2 901,435.8 903,437.9 905,431.4 907,429.8 909,429.4 911,431.2 913,428.5 915,435.8 917,436.6 919,437.5 921,439.0 923,437.5 925,436.1 927,437.8 929,437.3 931,436.9 933,438.9 935,443.5 937,439.4 939,438.1 941,440.6 943,437.7 945,435.2 947,432.3 949,432.7 951,439.0 953,445.9 955,446.3 957,447.3 959,447.6 961,448.0 963,449.9 965,449.7 967,449.9 969,456.1 971,458.9 973,462.7 975,466.7 977,468.1 979,469.9 981,473.2 983,475.2 985,472.6 987,473.2 989,470.6 991,467.8 993,468.2 995,469.9 997,466.1 999,469.7 1001,470.1 1003,469.8 1005,465.3 1007,467.4 1009,461.5 1011,458.8 1013,457.4 1015,457.3 1017,455.8 1019,460.1 1021,467.2 1023,467.6 1025,470.4 1027,476.2 1029,474.8 1031,477.3 1033,478.4 1035,486.8 1037,483.8 1039,484.0 1041,475.1 1043,472.1 1045,471.6 1047,469.7 1049,471.6 1051,473.3 1053,467.4 1055,463.8 1057,465.2 1059,464.0 1061,461.1 1063,453.6 1065,450.4 1067,448.2 1069,443.9 1071,442.2 1073,447.0 1075,452.3 1077,450.7 1079,445.7 1081,445.1 1083,443.0 1085,441.5 1087,446.7 1089,449.5 1091,450.8 1093,452.7 1095,451.4 1097,450.9 1099,451.5 1101,462.4 1103,464.4 1105,461.1 1107,460.3 1109,461.2 1111,459.7 1113,461.8 1115,464.5 1117,470.1 1119,471.1 1121,474.1 1123,479.7 1125,488.0 1127,492.9 1129,495.6 1131,500.9 1133,501.0 1135,507.0 1137,508.8 1139,511.6 1141,511.4 1143,515.8 1145,518.7 1147,519.3 1149,520.6 1151,528.8 1153,527.5 1155,524.7 1157,522.4 1159,528.7 1161,531.1 1163,531.3 1165,531.1 1167,532.6 1169,530.5 1171,525.1 1173,525.9 1175,526.2 1177,528.6 1179,533.7 1181,535.2 1183,535.6 1185,538.9 1187,535.4 1189,535.4 1191,531.9 1193,537.1 1195,537.8 1197,548.2 1199,553.1 1201,561.9 1203,564.3 1205,561.9 1207,559.3 1209,560.2 1211,558.7 1213,560.6 1215,559.0 1217,561.7 1219,561.3 1221,560.7 1223,562.0 1225,562.7 1227,563.7 1229,564.7 1231,563.8 1233,564.1 1235,567.3 1237,562.3 1239,563.3 1241,566.2 1243,558.2 1245,560.8 1247,562.4 1249,557.6 1251,565.0 1253,557.2 1255,565.1 1257,566.4 1259,566.4 1261,565.5 1263,567.5 1265,566.5 1267,568.6 1269,564.5 1271,565.1 1273,566.5 1275,562.1 1277,562.6 1279,562.7 1281,560.3 1283,565.6 1285,565.2 1287,563.2 1289,566.7 1291,566.5 1293,567.8 1295,570.1 1297,567.5 1299,569.0 1301,564.8 1303,566.3 1305,563.3 1307,563.5 1309,559.7 1311,558.3 1313,555.6 1315,557.0 1317,556.0 1319,556.4 1321,553.4 1323,550.0 1325,547.6 1327,549.2 1329,549.0 1331,552.1 1333,551.7 1335,549.2 1337,550.0 1339,554.1 1341,551.7 1343,549.2 1345,550.0 1347,545.7 1349,544.3 1351,542.4 1353,538.3 1355,541.5 1357,536.6 1359,536.4 1361,534.7 1363,535.9 1365,533.2 1367,532.0 1369,527.8 1371,530.2 1373,528.5 1375,532.2 1377,533.0 1379,533.0 1381,537.1 1383,535.2 1385,536.0 1387,533.5 1389,531.2 1391,531.4 1393,529.9 1395,524.1 1397,526.4 1399,523.7 1401,523.9 1403,523.6 1405,521.2 1407,521.9 1409,527.5 1411,525.4 1413,523.1 1415,526.6 1417,523.3 1419,518.6 1421,515.7 1423,514.7 1425,515.8 1427,513.1 1429,510.6 1431,509.8 1433,509.0 1435,503.1 1437,504.8 1439,502.6 1441,500.6 1443,500.4 1445,499.8 1447,497.9 1449,494.3 1451,494.4 1453,497.0 1455,490.2 1457,487.5 1459,489.3 1461,488.2 1463,486.4 1465,482.1 1467,483.6 1469,478.5 1471,475.8 1473,474.6 1475,469.2 1477,464.4 1479,458.1 1481,456.0 1483,456.7 1485,454.3 1487,454.7 1489,451.4 1491,452.1 1493,457.1 1495,454.3 1497,455.8 1499,455.2 1501,453.5 1503,452.6 1505,456.0 1507,450.3 1509,457.1 1511,460.5 1513,454.9 1515,450.9 1517,448.2 1519,445.4 1521,434.8 1523,431.6 1525,427.0 1527,425.6 1529,422.2 1531,426.3 1533,433.6 1535,439.6 1537,439.7 1539,441.0 1541,443.6 1543,446.6 1545,448.3 1547,457.9 1549,459.3 1551,459.3 1553,465.6 1555,464.4 1557,467.8 1559,468.3 1561,470.2 1563,472.7 1565,474.1 1567,477.6 1569,479.0 1571,469.7 1573,471.6 1575,468.1 1577,461.4 1579,456.7 1581,462.0 1583,457.0 1585,460.5 1587,458.5 1589,458.4 1591,459.7 1593,458.9 1595,458.4 1597,455.0" stroke="#6a1d52"/>
<path d="M371,500.0 373,500.4 375,502.5 377,501.7 379,498.7 381,499.4 383,501.2 385,499.7 387,500.1 389,498.9 391,499.9 393,500.8 395,501.6 397,499.7 399,503.0 401,499.1 403,504.4 405,501.0 407,500.4 409,499.1 411,495.4 413,500.2 415,501.1 417,503.6 419,497.6 421,502.7 423,498.6 425,499.9 427,493.9 429,498.7 431,498.7 433,501.3 435,501.1 437,499.8 439,503.5 441,503.3 443,503.3 445,504.1 447,504.5 449,502.7 451,500.6 453,501.9 455,508.4 457,509.3 459,509.2 461,508.3 463,509.1 465,509.0 467,508.4 469,507.7 471,512.3 473,508.8 475,507.2 477,505.5 479,504.2 481,504.5 483,503.4 485,501.2 487,501.2 489,499.9 491,497.8 493,501.1 495,498.8 497,501.9 499,497.4 501,499.5 503,502.3 505,499.7 507,497.2 509,497.3 511,498.4 513,499.0 515,499.0 517,501.5 519,502.2 521,501.6 523,501.5 525,501.4 527,503.2 529,502.7 531,498.5 533,496.5 535,492.4 537,489.7 539,489.5 541,491.6 543,490.3 545,491.7 547,488.4 549,489.9 551,491.4 553,491.7 555,487.0 557,485.7 559,484.2 561,480.1 563,480.1 565,478.5 567,473.4 569,475.9 571,471.2 573,470.5 575,471.1 577,471.0 579,473.0 581,471.8 583,474.1 585,471.8 587,473.7 589,474.4 591,474.8 593,480.0 595,481.6 597,487.5 599,488.6 601,494.3 603,490.0 605,484.4 607,484.9 609,486.3 611,488.6 613,488.7 615,484.7 617,485.5 619,488.2 621,483.2 623,482.5 625,481.3 627,479.3 629,483.0 631,480.4 633,480.1 635,482.1 637,482.6 639,477.7 641,483.4 643,485.1 645,486.3 647,488.0 649,487.4 651,489.0 653,486.2 655,484.6 657,485.4 659,486.4 661,487.2 663,488.6 665,491.0 667,488.9 669,487.9 671,486.5 673,487.3 675,486.0 677,487.8 679,488.7 681,486.4 683,491.5 685,494.1 687,491.7 689,488.2 691,490.4 693,485.5 695,485.8 697,487.2 699,490.1 701,493.0 703,493.7 705,492.1 707,489.7 709,490.6 711,491.1 713,494.2 715,493.4 717,498.2 719,499.1 721,497.7 723,498.8 725,496.4 727,493.7 729,493.3 731,494.6 733,492.6 735,488.2 737,492.2 739,490.8 741,495.2 743,494.2 745,493.3 747,496.0 749,493.2 751,491.9 753,490.0 755,491.9 757,490.4 759,490.3 761,490.6 763,494.6 765,492.3 767,493.1 769,497.8 771,499.4 773,498.2 775,494.8 777,496.9 779,499.8 781,500.2 783,504.2 785,500.7 787,507.7 789,509.1 791,516.0 793,514.5 795,515.7 797,512.2 799,510.2 801,509.8 803,509.8 805,510.7 807,516.2 809,518.0 811,517.9 813,515.6 815,516.2 817,514.3 819,515.6 821,509.8 823,506.3 825,501.0 827,500.8 829,505.3 831,507.2 833,508.5 835,504.7 837,500.7 839,504.1 841,510.0 843,508.4 845,506.1 847,504.9 849,501.7 851,500.1 853,500.1 855,500.5 857,492.8 859,494.5 861,493.7 863,492.5 865,491.4 867,488.8 869,488.8 871,484.0 873,485.8 875,489.1 877,492.1 879,493.2 881,496.8 883,496.7 885,495.0 887,492.6 889,491.2 891,493.8 893,495.8 895,500.3 897,495.8 899,492.2 901,491.4 903,490.2 905,485.3 907,490.1 909,486.0 911,484.4 913,484.9 915,481.8 917,481.7 919,487.4 921,482.8 923,481.6 925,478.1 927,480.9 929,488.5 931,495.3 933,499.0 935,490.8 937,489.5 939,487.9 941,484.1 943,481.4 945,484.7 947,484.9 949,485.5 951,486.1 953,485.3 955,483.7 957,485.0 959,484.1 961,487.3 963,489.4 965,490.0 967,492.4 969,493.6 971,501.5 973,506.4 975,506.0 977,510.8 979,513.0 981,519.0 983,522.2 985,526.8 987,523.0 989,522.8 991,522.7 993,527.3 995,526.8 997,525.7 999,521.8 1001,522.2 1003,521.0 1005,523.4 1007,522.6 1009,527.7 1011,528.8 1013,532.1 1015,534.5 1017,539.1 1019,539.6 1021,548.2 1023,541.2 1025,542.0 1027,533.2 1029,533.6 1031,531.3 1033,535.8 1035,531.4 1037,534.3 1039,533.8 1041,531.2 1043,532.2 1045,532.4 1047,530.0 1049,533.7 1051,528.1 1053,520.0 1055,518.3 1057,519.1 1059,525.2 1061,526.1 1063,526.6 1065,524.5 1067,523.0 1069,522.0 1071,512.8 1073,509.8 1075,508.7 1077,506.1 1079,511.2 1081,504.9 1083,510.6 1085,509.2 1087,504.1 1089,503.4 1091,504.3 1093,505.4 1095,500.1 1097,496.3 1099,498.0 1101,498.4 1103,496.9 1105,495.4 1107,503.3 1109,499.0 1111,496.6 1113,489.9 1115,486.7 1117,484.3 1119,488.3 1121,488.9 1123,484.4 1125,488.4 1127,495.0 1129,491.7 1131,488.5 1133,489.4 1135,487.8 1137,492.5 1139,496.5 1141,501.5 1143,505.9 1145,504.8 1147,500.3 1149,498.8 1151,496.8 1153,497.2 1155,493.6 1157,495.6 1159,499.5 1161,501.1 1163,503.2 1165,503.1 1167,506.2 1169,506.6 1171,505.5 1173,506.0 1175,505.5 1177,502.2 1179,500.2 1181,498.5 1183,498.6 1185,498.3 1187,495.0 1189,491.3 1191,484.3 1193,484.8 1195,479.5 1197,478.5 1199,475.9 1201,471.2 1203,471.5 1205,470.2 1207,473.3 1209,473.0 1211,477.6 1213,477.4 1215,479.2 1217,478.5 1219,476.3 1221,477.5 1223,474.7 1225,474.3 1227,471.7 1229,467.4 1231,468.9 1233,470.7 1235,471.9 1237,475.6 1239,478.7 1241,476.8 1243,473.5 1245,464.2 1247,468.4 1249,468.5 1251,466.1 1253,471.9 1255,474.5 1257,474.4 1259,474.3 1261,469.6 1263,473.4 1265,472.7 1267,477.0 1269,477.6 1271,471.2 1273,469.8 1275,467.1 1277,463.8 1279,465.9 1281,468.6 1283,468.0 1285,472.3 1287,464.7 1289,459.6 1291,454.8 1293,455.4 1295,454.0 1297,463.6 1299,467.9 1301,471.4 1303,470.2 1305,471.3 1307,475.0 1309,476.7 1311,477.1 1313,480.7 1315,483.5 1317,484.4 1319,483.3 1321,482.4 1323,486.6 1325,488.3 1327,486.5 1329,485.1 1331,483.6 1333,484.9 1335,482.6 1337,481.8 1339,478.9 1341,477.9 1343,475.2 1345,469.2 1347,464.7 1349,462.4 1351,463.7 1353,460.6 1355,461.5 1357,458.1 1359,457.1 1361,454.6 1363,458.0 1365,463.4 1367,463.6 1369,460.9 1371,457.5 1373,453.0 1375,451.7 1377,451.3 1379,451.3 1381,450.0 1383,450.8 1385,451.6 1387,451.3 1389,453.5 1391,453.6 1393,458.2 1395,452.2 1397,453.4 1399,455.9 1401,449.3 1403,448.7 1405,453.5 1407,457.7 1409,456.2 1411,458.5 1413,458.7 1415,458.9 1417,465.9 1419,461.6 1421,461.6 1423,464.3 1425,469.9 1427,474.2 1429,477.5 1431,477.7 1433,476.3 1435,480.2 1437,477.8 1439,476.9 1441,473.9 1443,474.8 1445,475.5 1447,477.7 1449,476.3 1451,479.4 1453,477.5 1455,473.5 1457,472.5 1459,474.1 1461,479.1 1463,475.3 1465,478.0 1467,474.8 1469,475.9 1471,477.0 1473,475.9 1475,478.5 1477,478.2 1479,484.0 1481,483.4 1483,484.8 1485,481.7 1487,483.3 1489,488.2 1491,487.3 1493,488.4 1495,490.6 1497,487.1 1499,489.7 1501,487.6 1503,487.6 1505,484.9 1507,485.0 1509,481.0 1511,482.0 1513,480.4 1515,476.7 1517,471.5 1519,467.3 1521,457.1 1523,458.7 1525,455.9 1527,459.2 1529,461.2 1531,461.7 1533,465.1 1535,469.2 1537,469.7 1539,460.2 1541,453.7 1543,452.7 1545,446.3 1547,448.9 1549,443.0 1551,438.8 1553,438.6 1555,436.4 1557,427.5 1559,427.2 1561,418.7 1563,417.2 1565,416.7 1567,417.4 1569,423.6 1571,427.7 1573,433.0 1575,435.7 1577,432.6 1579,429.7 1581,427.8 1583,434.3 1585,439.6 1587,443.1 1589,441.8 1591,448.9 1593,450.4 1595,456.6 1597,454.0" stroke="#2c1536"/>
</g>
</g>
<g opacity="0.9"><circle cx="371" cy="332.5" r="5" fill="#efb08c"/><circle cx="1597" cy="347.0" r="5" fill="#efb08c"/><circle cx="371" cy="350.0" r="5" fill="#ea7050"/><circle cx="1597" cy="361.5" r="5" fill="#ea7050"/><circle cx="371" cy="365.8" r="5" fill="#d62f40"/><circle cx="1597" cy="334.0" r="5" fill="#d62f40"/><circle cx="371" cy="469.2" r="5" fill="#a31555"/><circle cx="1597" cy="453.0" r="5" fill="#a31555"/><circle cx="371" cy="482.5" r="5" fill="#6a1d52"/><circle cx="1597" cy="455.0" r="5" fill="#6a1d52"/><circle cx="371" cy="500.0" r="5" fill="#2c1536"/><circle cx="1597" cy="454.0" r="5" fill="#2c1536"/></g>
<!-- legend -->
<rect x="1230" y="482.5" width="351.5" height="102" rx="6" fill="#fff" fill-opacity="0.8" stroke="#d9d9d9" stroke-opacity="0.6" stroke-width="1"/>
<line x1="1242" y1="507" x2="1308" y2="507" stroke="#fff" stroke-width="3"/>
<line x1="1242" y1="553" x2="1308" y2="553" stroke="#dc3048" stroke-width="3"/>
<g font-family="'Liberation Sans',Arial,sans-serif" font-size="32" fill="#262626">
<text x="1333" y="517">ODE trajectories</text>
<text x="1333" y="563">SDE trajectories</text>
</g>
<!-- axis labels -->
<g font-family="'DejaVu Sans',sans-serif" font-size="38" fill="#262626">
<text x="258" y="635"><tspan font-style="italic">p</tspan><tspan font-size="26.6" dy="6">0</tspan><tspan dy="-6">(</tspan><tspan font-style="italic">x</tspan>)</text>
<text x="943" y="635"><tspan font-style="italic">p</tspan><tspan font-size="26.6" dy="6" font-style="italic">t</tspan><tspan dy="-6">(</tspan><tspan font-style="italic">x</tspan>)</text>
<text x="1622" y="635"><tspan font-style="italic">p</tspan><tspan font-size="26.6" dy="6" font-style="italic">T</tspan><tspan dy="-6">(</tspan><tspan font-style="italic">x</tspan>)</text>
<text transform="translate(227,419) rotate(-90)" text-anchor="middle" font-style="italic">x</text>
</g>
<!-- double arrow -->
<polygon points="821,835 842,813.5 842,824 978,824 978,813.5 999.5,835 978,856.5 978,846 842,846 842,856.5" fill="#c5be96"/>
<!-- SDE equation -->
<g fill="#000" stroke="#000" stroke-width="0.4">
<text transform="translate(475.1,846.7) scale(0.944,1.000)" font-size="46.9" font-family="'Liberation Serif',serif">d</text>
<text transform="translate(503.1,846.7) scale(1.119,1.000)" font-size="45.5" font-family="'Liberation Serif',serif" font-weight="700">x</text>
<text transform="translate(531.2,853.9) scale(1.320,1.000)" font-size="27.8" font-family="'Liberation Serif',serif" font-style="italic">t</text>
<text transform="translate(558.6,846.4) scale(1.320,0.609)" font-size="46.0" font-family="'Liberation Serif',serif" stroke-width="1.1">=</text>
<text transform="translate(607.7,847.1) scale(1.223,1.000)" font-size="41.3" font-family="'Liberation Serif',serif" font-style="italic">σ</text>
<text transform="translate(639.3,847.8) scale(0.750,1.000)" font-size="53.4" font-family="'Liberation Serif',serif">(</text>
<text transform="translate(653.3,847.0) scale(1.068,1.000)" font-size="52.4" font-family="'Liberation Serif',serif" font-style="italic">t</text>
<text transform="translate(672.8,847.8) scale(0.750,1.000)" font-size="53.4" font-family="'Liberation Serif',serif">)</text>
<text transform="translate(698.4,846.7) scale(0.944,1.000)" font-size="46.9" font-family="'Liberation Serif',serif">d</text>
<text transform="translate(725.7,846.8) scale(1.102,1.000)" font-size="45.7" font-family="'Liberation Serif',serif" font-weight="700">w</text>
<text transform="translate(764.2,853.9) scale(1.305,1.000)" font-size="27.8" font-family="'Liberation Serif',serif" font-style="italic">t</text>
</g>
<!-- ODE equation -->
<g fill="#000" stroke="#000" stroke-width="0.4">
<text transform="translate(1044.2,815.8) scale(0.944,1.000)" font-size="46.9" font-family="'Liberation Serif',serif">d</text>
<text transform="translate(1071.5,815.8) scale(1.124,1.000)" font-size="45.3" font-family="'Liberation Serif',serif" font-weight="700">x</text>
<text transform="translate(1099.6,823.0) scale(1.320,1.000)" font-size="27.6" font-family="'Liberation Serif',serif" font-style="italic">t</text>
<rect x="1045" y="833.4" width="67.5" height="2.2"/>
<text transform="translate(1058.4,880.0) scale(0.944,1.000)" font-size="46.9" font-family="'Liberation Serif',serif">d</text>
<text transform="translate(1081.8,880.0) scale(1.104,1.000)" font-size="50.3" font-family="'Liberation Serif',serif" font-style="italic">t</text>
<text transform="translate(1131.1,847.0) scale(1.320,0.670)" font-size="46.0" font-family="'Liberation Serif',serif" stroke-width="1.1">=</text>
<text transform="translate(1180.3,845.1) scale(1.320,0.611)" font-size="46.0" font-family="'Liberation Serif',serif" stroke-width="1.1">−</text>
<text transform="translate(1221.5,815.0) scale(0.865,1.000)" font-size="46.7" font-family="'Liberation Serif',serif">1</text>
<rect x="1220.8" y="833.4" width="22.5" height="2.2"/>
<text transform="translate(1220.4,879.2) scale(1.026,1.000)" font-size="46.7" font-family="'Liberation Serif',serif">2</text>
<text transform="translate(1248.5,847.6) scale(1.157,1.000)" font-size="42.3" font-family="'Liberation Serif',serif" font-style="italic">σ</text>
<text transform="translate(1278.5,847.8) scale(0.750,1.000)" font-size="53.4" font-family="'Liberation Serif',serif">(</text>
<text transform="translate(1292.5,847.5) scale(1.050,1.000)" font-size="53.3" font-family="'Liberation Serif',serif" font-style="italic">t</text>
<text transform="translate(1311.9,847.8) scale(0.750,1.000)" font-size="53.4" font-family="'Liberation Serif',serif">)</text>
<text transform="translate(1328.4,827.5) scale(1.128,1.000)" font-size="31.4" font-family="'Liberation Serif',serif">2</text>
<g fill="#861628" stroke="#861628">
<text transform="translate(1385.5,848.3) scale(-1.167,1.000)" font-size="44.6" font-family="'DejaVu Serif',serif" stroke-width="0">∇</text>
<text transform="translate(1390.0,855.0) scale(1.320,1.000)" font-size="25.5" font-family="'Liberation Serif',serif" font-weight="700">x</text>
<text transform="translate(1416.0,848.3) scale(0.900,1.000)" font-size="48.0" font-family="'Liberation Serif',serif">l</text>
<text transform="translate(1426.6,848.3) scale(0.908,1.000)" font-size="47.8" font-family="'Liberation Serif',serif">o</text>
<text transform="translate(1448.7,849.3) scale(1.081,1.000)" font-size="45.8" font-family="'Liberation Serif',serif">g</text>
<text transform="translate(1485.4,847.6) scale(1.054,1.000)" font-size="46.3" font-family="'Liberation Serif',serif" font-style="italic">p</text>
<text transform="translate(1509.2,855.5) scale(1.313,1.000)" font-size="27.6" font-family="'Liberation Serif',serif" font-style="italic">t</text>
<text transform="translate(1524.8,847.8) scale(0.750,1.000)" font-size="53.4" font-family="'Liberation Serif',serif">(</text>
<text transform="translate(1540.6,848.3) scale(1.083,1.000)" font-size="47.1" font-family="'Liberation Serif',serif" font-weight="700">x</text>
<text transform="translate(1568.0,855.5) scale(1.320,1.000)" font-size="27.6" font-family="'Liberation Serif',serif" font-style="italic">t</text>
<text transform="translate(1581.9,847.8) scale(0.750,1.000)" font-size="53.4" font-family="'Liberation Serif',serif">)</text>
</g>
</g>
</svg>
<div class="hd" style="left:526px;width:200px">SDE</div>
<div class="hd" style="left:923px;width:800px">Ordinary differential equation (ODE)</div>
<div class="st1">Stanford</div>
<div class="st2">Stanford University</div>
</body></html>
